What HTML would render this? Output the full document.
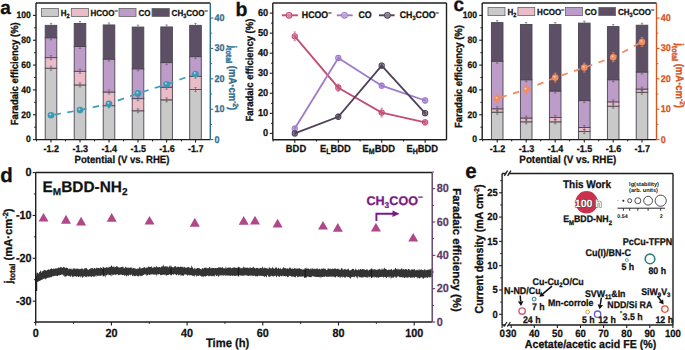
<!DOCTYPE html>
<html><head><meta charset="utf-8"><style>
html,body{margin:0;padding:0;background:#fff;}
svg{display:block;}
text{font-family:"Liberation Sans",sans-serif;text-rendering:geometricPrecision;}
</style></head><body>
<svg width="685" height="350" viewBox="0 0 685 350">
<rect width="685" height="350" fill="#fff"/>
<rect x="45.20" y="68.18" width="11.60" height="71.42" fill="#c9c9c9" stroke="#4a4650" stroke-width="0.9" />
<rect x="45.20" y="57.63" width="11.60" height="10.56" fill="#e9bcc8" stroke="#4a4650" stroke-width="0.9" />
<rect x="45.20" y="37.76" width="11.60" height="19.87" fill="#bd9cc9" stroke="#4a4650" stroke-width="0.9" />
<rect x="45.20" y="25.34" width="11.60" height="12.42" fill="#5d5066" stroke="#4a4650" stroke-width="0.9" />
<line x1="51.00" y1="66.18" x2="51.00" y2="70.18" stroke="#555" stroke-width="0.6" />
<line x1="49.80" y1="66.18" x2="52.20" y2="66.18" stroke="#555" stroke-width="0.6" />
<line x1="49.80" y1="70.18" x2="52.20" y2="70.18" stroke="#555" stroke-width="0.6" />
<line x1="51.00" y1="55.63" x2="51.00" y2="59.63" stroke="#555" stroke-width="0.6" />
<line x1="49.80" y1="55.63" x2="52.20" y2="55.63" stroke="#555" stroke-width="0.6" />
<line x1="49.80" y1="59.63" x2="52.20" y2="59.63" stroke="#555" stroke-width="0.6" />
<line x1="51.00" y1="35.76" x2="51.00" y2="39.76" stroke="#555" stroke-width="0.6" />
<line x1="49.80" y1="35.76" x2="52.20" y2="35.76" stroke="#555" stroke-width="0.6" />
<line x1="49.80" y1="39.76" x2="52.20" y2="39.76" stroke="#555" stroke-width="0.6" />
<line x1="51.00" y1="23.34" x2="51.00" y2="27.34" stroke="#555" stroke-width="0.6" />
<line x1="49.80" y1="23.34" x2="52.20" y2="23.34" stroke="#555" stroke-width="0.6" />
<line x1="49.80" y1="27.34" x2="52.20" y2="27.34" stroke="#555" stroke-width="0.6" />
<rect x="74.20" y="84.95" width="11.60" height="54.65" fill="#c9c9c9" stroke="#4a4650" stroke-width="0.9" />
<rect x="74.20" y="71.29" width="11.60" height="13.66" fill="#e9bcc8" stroke="#4a4650" stroke-width="0.9" />
<rect x="74.20" y="46.45" width="11.60" height="24.84" fill="#bd9cc9" stroke="#4a4650" stroke-width="0.9" />
<rect x="74.20" y="23.47" width="11.60" height="22.98" fill="#5d5066" stroke="#4a4650" stroke-width="0.9" />
<line x1="80.00" y1="82.95" x2="80.00" y2="86.95" stroke="#555" stroke-width="0.6" />
<line x1="78.80" y1="82.95" x2="81.20" y2="82.95" stroke="#555" stroke-width="0.6" />
<line x1="78.80" y1="86.95" x2="81.20" y2="86.95" stroke="#555" stroke-width="0.6" />
<line x1="80.00" y1="69.29" x2="80.00" y2="73.29" stroke="#555" stroke-width="0.6" />
<line x1="78.80" y1="69.29" x2="81.20" y2="69.29" stroke="#555" stroke-width="0.6" />
<line x1="78.80" y1="73.29" x2="81.20" y2="73.29" stroke="#555" stroke-width="0.6" />
<line x1="80.00" y1="44.45" x2="80.00" y2="48.45" stroke="#555" stroke-width="0.6" />
<line x1="78.80" y1="44.45" x2="81.20" y2="44.45" stroke="#555" stroke-width="0.6" />
<line x1="78.80" y1="48.45" x2="81.20" y2="48.45" stroke="#555" stroke-width="0.6" />
<line x1="80.00" y1="21.47" x2="80.00" y2="25.47" stroke="#555" stroke-width="0.6" />
<line x1="78.80" y1="21.47" x2="81.20" y2="21.47" stroke="#555" stroke-width="0.6" />
<line x1="78.80" y1="25.47" x2="81.20" y2="25.47" stroke="#555" stroke-width="0.6" />
<rect x="103.20" y="105.69" width="11.60" height="33.91" fill="#c9c9c9" stroke="#4a4650" stroke-width="0.9" />
<rect x="103.20" y="92.03" width="11.60" height="13.66" fill="#e9bcc8" stroke="#4a4650" stroke-width="0.9" />
<rect x="103.20" y="59.12" width="11.60" height="32.91" fill="#bd9cc9" stroke="#4a4650" stroke-width="0.9" />
<rect x="103.20" y="24.96" width="11.60" height="34.16" fill="#5d5066" stroke="#4a4650" stroke-width="0.9" />
<line x1="109.00" y1="103.69" x2="109.00" y2="107.69" stroke="#555" stroke-width="0.6" />
<line x1="107.80" y1="103.69" x2="110.20" y2="103.69" stroke="#555" stroke-width="0.6" />
<line x1="107.80" y1="107.69" x2="110.20" y2="107.69" stroke="#555" stroke-width="0.6" />
<line x1="109.00" y1="90.03" x2="109.00" y2="94.03" stroke="#555" stroke-width="0.6" />
<line x1="107.80" y1="90.03" x2="110.20" y2="90.03" stroke="#555" stroke-width="0.6" />
<line x1="107.80" y1="94.03" x2="110.20" y2="94.03" stroke="#555" stroke-width="0.6" />
<line x1="109.00" y1="57.12" x2="109.00" y2="61.12" stroke="#555" stroke-width="0.6" />
<line x1="107.80" y1="57.12" x2="110.20" y2="57.12" stroke="#555" stroke-width="0.6" />
<line x1="107.80" y1="61.12" x2="110.20" y2="61.12" stroke="#555" stroke-width="0.6" />
<line x1="109.00" y1="22.96" x2="109.00" y2="26.96" stroke="#555" stroke-width="0.6" />
<line x1="107.80" y1="22.96" x2="110.20" y2="22.96" stroke="#555" stroke-width="0.6" />
<line x1="107.80" y1="26.96" x2="110.20" y2="26.96" stroke="#555" stroke-width="0.6" />
<rect x="132.20" y="110.79" width="11.60" height="28.81" fill="#c9c9c9" stroke="#4a4650" stroke-width="0.9" />
<rect x="132.20" y="98.61" width="11.60" height="12.17" fill="#e9bcc8" stroke="#4a4650" stroke-width="0.9" />
<rect x="132.20" y="68.81" width="11.60" height="29.81" fill="#bd9cc9" stroke="#4a4650" stroke-width="0.9" />
<rect x="132.20" y="27.07" width="11.60" height="41.73" fill="#5d5066" stroke="#4a4650" stroke-width="0.9" />
<line x1="138.00" y1="108.79" x2="138.00" y2="112.79" stroke="#555" stroke-width="0.6" />
<line x1="136.80" y1="108.79" x2="139.20" y2="108.79" stroke="#555" stroke-width="0.6" />
<line x1="136.80" y1="112.79" x2="139.20" y2="112.79" stroke="#555" stroke-width="0.6" />
<line x1="138.00" y1="96.61" x2="138.00" y2="100.61" stroke="#555" stroke-width="0.6" />
<line x1="136.80" y1="96.61" x2="139.20" y2="96.61" stroke="#555" stroke-width="0.6" />
<line x1="136.80" y1="100.61" x2="139.20" y2="100.61" stroke="#555" stroke-width="0.6" />
<line x1="138.00" y1="66.81" x2="138.00" y2="70.81" stroke="#555" stroke-width="0.6" />
<line x1="136.80" y1="66.81" x2="139.20" y2="66.81" stroke="#555" stroke-width="0.6" />
<line x1="136.80" y1="70.81" x2="139.20" y2="70.81" stroke="#555" stroke-width="0.6" />
<line x1="138.00" y1="25.07" x2="138.00" y2="29.07" stroke="#555" stroke-width="0.6" />
<line x1="136.80" y1="25.07" x2="139.20" y2="25.07" stroke="#555" stroke-width="0.6" />
<line x1="136.80" y1="29.07" x2="139.20" y2="29.07" stroke="#555" stroke-width="0.6" />
<rect x="160.80" y="99.86" width="11.60" height="39.74" fill="#c9c9c9" stroke="#4a4650" stroke-width="0.9" />
<rect x="160.80" y="87.19" width="11.60" height="12.67" fill="#e9bcc8" stroke="#4a4650" stroke-width="0.9" />
<rect x="160.80" y="62.60" width="11.60" height="24.59" fill="#bd9cc9" stroke="#4a4650" stroke-width="0.9" />
<rect x="160.80" y="26.95" width="11.60" height="35.65" fill="#5d5066" stroke="#4a4650" stroke-width="0.9" />
<line x1="166.60" y1="97.86" x2="166.60" y2="101.86" stroke="#555" stroke-width="0.6" />
<line x1="165.40" y1="97.86" x2="167.80" y2="97.86" stroke="#555" stroke-width="0.6" />
<line x1="165.40" y1="101.86" x2="167.80" y2="101.86" stroke="#555" stroke-width="0.6" />
<line x1="166.60" y1="85.19" x2="166.60" y2="89.19" stroke="#555" stroke-width="0.6" />
<line x1="165.40" y1="85.19" x2="167.80" y2="85.19" stroke="#555" stroke-width="0.6" />
<line x1="165.40" y1="89.19" x2="167.80" y2="89.19" stroke="#555" stroke-width="0.6" />
<line x1="166.60" y1="60.60" x2="166.60" y2="64.60" stroke="#555" stroke-width="0.6" />
<line x1="165.40" y1="60.60" x2="167.80" y2="60.60" stroke="#555" stroke-width="0.6" />
<line x1="165.40" y1="64.60" x2="167.80" y2="64.60" stroke="#555" stroke-width="0.6" />
<line x1="166.60" y1="24.95" x2="166.60" y2="28.95" stroke="#555" stroke-width="0.6" />
<line x1="165.40" y1="24.95" x2="167.80" y2="24.95" stroke="#555" stroke-width="0.6" />
<line x1="165.40" y1="28.95" x2="167.80" y2="28.95" stroke="#555" stroke-width="0.6" />
<rect x="189.70" y="89.55" width="11.60" height="50.05" fill="#c9c9c9" stroke="#4a4650" stroke-width="0.9" />
<rect x="189.70" y="76.26" width="11.60" height="13.29" fill="#e9bcc8" stroke="#4a4650" stroke-width="0.9" />
<rect x="189.70" y="56.63" width="11.60" height="19.62" fill="#bd9cc9" stroke="#4a4650" stroke-width="0.9" />
<rect x="189.70" y="25.34" width="11.60" height="31.30" fill="#5d5066" stroke="#4a4650" stroke-width="0.9" />
<line x1="195.50" y1="87.55" x2="195.50" y2="91.55" stroke="#555" stroke-width="0.6" />
<line x1="194.30" y1="87.55" x2="196.70" y2="87.55" stroke="#555" stroke-width="0.6" />
<line x1="194.30" y1="91.55" x2="196.70" y2="91.55" stroke="#555" stroke-width="0.6" />
<line x1="195.50" y1="74.26" x2="195.50" y2="78.26" stroke="#555" stroke-width="0.6" />
<line x1="194.30" y1="74.26" x2="196.70" y2="74.26" stroke="#555" stroke-width="0.6" />
<line x1="194.30" y1="78.26" x2="196.70" y2="78.26" stroke="#555" stroke-width="0.6" />
<line x1="195.50" y1="54.63" x2="195.50" y2="58.63" stroke="#555" stroke-width="0.6" />
<line x1="194.30" y1="54.63" x2="196.70" y2="54.63" stroke="#555" stroke-width="0.6" />
<line x1="194.30" y1="58.63" x2="196.70" y2="58.63" stroke="#555" stroke-width="0.6" />
<line x1="195.50" y1="23.34" x2="195.50" y2="27.34" stroke="#555" stroke-width="0.6" />
<line x1="194.30" y1="23.34" x2="196.70" y2="23.34" stroke="#555" stroke-width="0.6" />
<line x1="194.30" y1="27.34" x2="196.70" y2="27.34" stroke="#555" stroke-width="0.6" />
<polyline points="51.00,115.28 80.00,110.11 109.00,103.73 138.00,93.39 166.60,84.27 195.50,73.94" fill="none" stroke="#3f9bbf" stroke-width="1.7" stroke-dasharray="6.5,6.5" stroke-dashoffset="-3.5"/>
<defs><radialGradient id="g3b98b2" cx="0.5" cy="0.5" r="0.5" fx="0.35" fy="0.32"><stop offset="0" stop-color="#cfeaf2"/><stop offset="0.45" stop-color="#3b98b2"/><stop offset="1" stop-color="#3b98b2"/></radialGradient></defs>
<circle cx="51.00" cy="115.28" r="3.30" fill="url(#g3b98b2)" stroke="none" stroke-width="0" />
<circle cx="80.00" cy="110.11" r="3.30" fill="url(#g3b98b2)" stroke="none" stroke-width="0" />
<circle cx="109.00" cy="103.73" r="3.30" fill="url(#g3b98b2)" stroke="none" stroke-width="0" />
<circle cx="138.00" cy="93.39" r="3.30" fill="url(#g3b98b2)" stroke="none" stroke-width="0" />
<circle cx="166.60" cy="84.27" r="3.30" fill="url(#g3b98b2)" stroke="none" stroke-width="0" />
<circle cx="195.50" cy="73.94" r="3.30" fill="url(#g3b98b2)" stroke="none" stroke-width="0" />
<line x1="36.00" y1="3.00" x2="210.30" y2="3.00" stroke="#1e1e1e" stroke-width="1.4" />
<line x1="36.00" y1="3.00" x2="36.00" y2="139.60" stroke="#1e1e1e" stroke-width="1.4" />
<line x1="36.00" y1="139.60" x2="210.30" y2="139.60" stroke="#1e1e1e" stroke-width="1.4" />
<line x1="210.30" y1="3.00" x2="210.30" y2="139.60" stroke="#2f6e8c" stroke-width="1.4" />
<line x1="33.00" y1="139.60" x2="36.00" y2="139.60" stroke="#1e1e1e" stroke-width="1.1" />
<text transform="translate(30.80,142.40) scale(1,1.09)" font-size="8.6" font-weight="bold" text-anchor="end" fill="#111" stroke="#111" stroke-width="0.25" >0</text>
<line x1="34.20" y1="127.18" x2="36.00" y2="127.18" stroke="#1e1e1e" stroke-width="1.0" />
<line x1="33.00" y1="114.76" x2="36.00" y2="114.76" stroke="#1e1e1e" stroke-width="1.1" />
<text transform="translate(30.80,117.56) scale(1,1.09)" font-size="8.6" font-weight="bold" text-anchor="end" fill="#111" stroke="#111" stroke-width="0.25" >20</text>
<line x1="34.20" y1="102.34" x2="36.00" y2="102.34" stroke="#1e1e1e" stroke-width="1.0" />
<line x1="33.00" y1="89.92" x2="36.00" y2="89.92" stroke="#1e1e1e" stroke-width="1.1" />
<text transform="translate(30.80,92.72) scale(1,1.09)" font-size="8.6" font-weight="bold" text-anchor="end" fill="#111" stroke="#111" stroke-width="0.25" >40</text>
<line x1="34.20" y1="77.50" x2="36.00" y2="77.50" stroke="#1e1e1e" stroke-width="1.0" />
<line x1="33.00" y1="65.08" x2="36.00" y2="65.08" stroke="#1e1e1e" stroke-width="1.1" />
<text transform="translate(30.80,67.88) scale(1,1.09)" font-size="8.6" font-weight="bold" text-anchor="end" fill="#111" stroke="#111" stroke-width="0.25" >60</text>
<line x1="34.20" y1="52.66" x2="36.00" y2="52.66" stroke="#1e1e1e" stroke-width="1.0" />
<line x1="33.00" y1="40.24" x2="36.00" y2="40.24" stroke="#1e1e1e" stroke-width="1.1" />
<text transform="translate(30.80,43.04) scale(1,1.09)" font-size="8.6" font-weight="bold" text-anchor="end" fill="#111" stroke="#111" stroke-width="0.25" >80</text>
<line x1="34.20" y1="27.82" x2="36.00" y2="27.82" stroke="#1e1e1e" stroke-width="1.0" />
<line x1="33.00" y1="15.40" x2="36.00" y2="15.40" stroke="#1e1e1e" stroke-width="1.1" />
<text transform="translate(30.80,18.20) scale(1,1.09)" font-size="8.6" font-weight="bold" text-anchor="end" fill="#111" stroke="#111" stroke-width="0.25" >100</text>
<line x1="210.30" y1="139.60" x2="213.30" y2="139.60" stroke="#2f6e8c" stroke-width="1.1" />
<text transform="translate(214.60,142.60) scale(1,1.09)" font-size="9.0" font-weight="bold" text-anchor="start" fill="#2f6e8c" stroke="#2f6e8c" stroke-width="0.25" >0</text>
<line x1="210.30" y1="124.40" x2="212.10" y2="124.40" stroke="#2f6e8c" stroke-width="1.0" />
<line x1="210.30" y1="109.20" x2="213.30" y2="109.20" stroke="#2f6e8c" stroke-width="1.1" />
<text transform="translate(214.60,112.20) scale(1,1.09)" font-size="9.0" font-weight="bold" text-anchor="start" fill="#2f6e8c" stroke="#2f6e8c" stroke-width="0.25" >10</text>
<line x1="210.30" y1="94.00" x2="212.10" y2="94.00" stroke="#2f6e8c" stroke-width="1.0" />
<line x1="210.30" y1="78.80" x2="213.30" y2="78.80" stroke="#2f6e8c" stroke-width="1.1" />
<text transform="translate(214.60,81.80) scale(1,1.09)" font-size="9.0" font-weight="bold" text-anchor="start" fill="#2f6e8c" stroke="#2f6e8c" stroke-width="0.25" >20</text>
<line x1="210.30" y1="63.60" x2="212.10" y2="63.60" stroke="#2f6e8c" stroke-width="1.0" />
<line x1="210.30" y1="48.40" x2="213.30" y2="48.40" stroke="#2f6e8c" stroke-width="1.1" />
<text transform="translate(214.60,51.40) scale(1,1.09)" font-size="9.0" font-weight="bold" text-anchor="start" fill="#2f6e8c" stroke="#2f6e8c" stroke-width="0.25" >30</text>
<line x1="210.30" y1="33.20" x2="212.10" y2="33.20" stroke="#2f6e8c" stroke-width="1.0" />
<line x1="210.30" y1="18.00" x2="213.30" y2="18.00" stroke="#2f6e8c" stroke-width="1.1" />
<text transform="translate(214.60,21.00) scale(1,1.09)" font-size="9.0" font-weight="bold" text-anchor="start" fill="#2f6e8c" stroke="#2f6e8c" stroke-width="0.25" >40</text>
<line x1="51.00" y1="139.60" x2="51.00" y2="142.60" stroke="#1e1e1e" stroke-width="1.1" />
<text transform="translate(51.30,152.20) scale(1,1.09)" font-size="9.0" font-weight="bold" text-anchor="middle" fill="#111" stroke="#111" stroke-width="0.25" >-1.2</text>
<line x1="80.00" y1="139.60" x2="80.00" y2="142.60" stroke="#1e1e1e" stroke-width="1.1" />
<text transform="translate(80.30,152.20) scale(1,1.09)" font-size="9.0" font-weight="bold" text-anchor="middle" fill="#111" stroke="#111" stroke-width="0.25" >-1.3</text>
<line x1="109.00" y1="139.60" x2="109.00" y2="142.60" stroke="#1e1e1e" stroke-width="1.1" />
<text transform="translate(109.30,152.20) scale(1,1.09)" font-size="9.0" font-weight="bold" text-anchor="middle" fill="#111" stroke="#111" stroke-width="0.25" >-1.4</text>
<line x1="138.00" y1="139.60" x2="138.00" y2="142.60" stroke="#1e1e1e" stroke-width="1.1" />
<text transform="translate(138.30,152.20) scale(1,1.09)" font-size="9.0" font-weight="bold" text-anchor="middle" fill="#111" stroke="#111" stroke-width="0.25" >-1.5</text>
<line x1="166.60" y1="139.60" x2="166.60" y2="142.60" stroke="#1e1e1e" stroke-width="1.1" />
<text transform="translate(166.90,152.20) scale(1,1.09)" font-size="9.0" font-weight="bold" text-anchor="middle" fill="#111" stroke="#111" stroke-width="0.25" >-1.6</text>
<line x1="195.50" y1="139.60" x2="195.50" y2="142.60" stroke="#1e1e1e" stroke-width="1.1" />
<text transform="translate(195.80,152.20) scale(1,1.09)" font-size="9.0" font-weight="bold" text-anchor="middle" fill="#111" stroke="#111" stroke-width="0.25" >-1.7</text>
<line x1="36.50" y1="139.60" x2="36.50" y2="141.40" stroke="#1e1e1e" stroke-width="1.0" />
<line x1="65.50" y1="139.60" x2="65.50" y2="141.40" stroke="#1e1e1e" stroke-width="1.0" />
<line x1="94.50" y1="139.60" x2="94.50" y2="141.40" stroke="#1e1e1e" stroke-width="1.0" />
<line x1="123.50" y1="139.60" x2="123.50" y2="141.40" stroke="#1e1e1e" stroke-width="1.0" />
<line x1="152.50" y1="139.60" x2="152.50" y2="141.40" stroke="#1e1e1e" stroke-width="1.0" />
<line x1="181.50" y1="139.60" x2="181.50" y2="141.40" stroke="#1e1e1e" stroke-width="1.0" />
<rect x="491.40" y="112.15" width="11.60" height="27.45" fill="#c9c9c9" stroke="#4a4650" stroke-width="0.9" />
<rect x="491.40" y="108.80" width="11.60" height="3.35" fill="#e9bcc8" stroke="#4a4650" stroke-width="0.9" />
<rect x="491.40" y="61.23" width="11.60" height="47.57" fill="#bd9cc9" stroke="#4a4650" stroke-width="0.9" />
<rect x="491.40" y="22.60" width="11.60" height="38.63" fill="#5d5066" stroke="#4a4650" stroke-width="0.9" />
<line x1="497.20" y1="110.15" x2="497.20" y2="114.15" stroke="#555" stroke-width="0.6" />
<line x1="496.00" y1="110.15" x2="498.40" y2="110.15" stroke="#555" stroke-width="0.6" />
<line x1="496.00" y1="114.15" x2="498.40" y2="114.15" stroke="#555" stroke-width="0.6" />
<line x1="497.20" y1="106.80" x2="497.20" y2="110.80" stroke="#555" stroke-width="0.6" />
<line x1="496.00" y1="106.80" x2="498.40" y2="106.80" stroke="#555" stroke-width="0.6" />
<line x1="496.00" y1="110.80" x2="498.40" y2="110.80" stroke="#555" stroke-width="0.6" />
<line x1="497.20" y1="59.23" x2="497.20" y2="63.23" stroke="#555" stroke-width="0.6" />
<line x1="496.00" y1="59.23" x2="498.40" y2="59.23" stroke="#555" stroke-width="0.6" />
<line x1="496.00" y1="63.23" x2="498.40" y2="63.23" stroke="#555" stroke-width="0.6" />
<line x1="497.20" y1="20.60" x2="497.20" y2="24.60" stroke="#555" stroke-width="0.6" />
<line x1="496.00" y1="20.60" x2="498.40" y2="20.60" stroke="#555" stroke-width="0.6" />
<line x1="496.00" y1="24.60" x2="498.40" y2="24.60" stroke="#555" stroke-width="0.6" />
<rect x="520.40" y="121.84" width="11.60" height="17.76" fill="#c9c9c9" stroke="#4a4650" stroke-width="0.9" />
<rect x="520.40" y="117.99" width="11.60" height="3.85" fill="#e9bcc8" stroke="#4a4650" stroke-width="0.9" />
<rect x="520.40" y="79.74" width="11.60" height="38.25" fill="#bd9cc9" stroke="#4a4650" stroke-width="0.9" />
<rect x="520.40" y="24.47" width="11.60" height="55.27" fill="#5d5066" stroke="#4a4650" stroke-width="0.9" />
<line x1="526.20" y1="119.84" x2="526.20" y2="123.84" stroke="#555" stroke-width="0.6" />
<line x1="525.00" y1="119.84" x2="527.40" y2="119.84" stroke="#555" stroke-width="0.6" />
<line x1="525.00" y1="123.84" x2="527.40" y2="123.84" stroke="#555" stroke-width="0.6" />
<line x1="526.20" y1="115.99" x2="526.20" y2="119.99" stroke="#555" stroke-width="0.6" />
<line x1="525.00" y1="115.99" x2="527.40" y2="115.99" stroke="#555" stroke-width="0.6" />
<line x1="525.00" y1="119.99" x2="527.40" y2="119.99" stroke="#555" stroke-width="0.6" />
<line x1="526.20" y1="77.74" x2="526.20" y2="81.74" stroke="#555" stroke-width="0.6" />
<line x1="525.00" y1="77.74" x2="527.40" y2="77.74" stroke="#555" stroke-width="0.6" />
<line x1="525.00" y1="81.74" x2="527.40" y2="81.74" stroke="#555" stroke-width="0.6" />
<line x1="526.20" y1="22.47" x2="526.20" y2="26.47" stroke="#555" stroke-width="0.6" />
<line x1="525.00" y1="22.47" x2="527.40" y2="22.47" stroke="#555" stroke-width="0.6" />
<line x1="525.00" y1="26.47" x2="527.40" y2="26.47" stroke="#555" stroke-width="0.6" />
<rect x="549.40" y="121.84" width="11.60" height="17.76" fill="#c9c9c9" stroke="#4a4650" stroke-width="0.9" />
<rect x="549.40" y="117.49" width="11.60" height="4.35" fill="#e9bcc8" stroke="#4a4650" stroke-width="0.9" />
<rect x="549.40" y="91.04" width="11.60" height="26.45" fill="#bd9cc9" stroke="#4a4650" stroke-width="0.9" />
<rect x="549.40" y="24.59" width="11.60" height="66.45" fill="#5d5066" stroke="#4a4650" stroke-width="0.9" />
<line x1="555.20" y1="119.84" x2="555.20" y2="123.84" stroke="#555" stroke-width="0.6" />
<line x1="554.00" y1="119.84" x2="556.40" y2="119.84" stroke="#555" stroke-width="0.6" />
<line x1="554.00" y1="123.84" x2="556.40" y2="123.84" stroke="#555" stroke-width="0.6" />
<line x1="555.20" y1="115.49" x2="555.20" y2="119.49" stroke="#555" stroke-width="0.6" />
<line x1="554.00" y1="115.49" x2="556.40" y2="115.49" stroke="#555" stroke-width="0.6" />
<line x1="554.00" y1="119.49" x2="556.40" y2="119.49" stroke="#555" stroke-width="0.6" />
<line x1="555.20" y1="89.04" x2="555.20" y2="93.04" stroke="#555" stroke-width="0.6" />
<line x1="554.00" y1="89.04" x2="556.40" y2="89.04" stroke="#555" stroke-width="0.6" />
<line x1="554.00" y1="93.04" x2="556.40" y2="93.04" stroke="#555" stroke-width="0.6" />
<line x1="555.20" y1="22.59" x2="555.20" y2="26.59" stroke="#555" stroke-width="0.6" />
<line x1="554.00" y1="22.59" x2="556.40" y2="22.59" stroke="#555" stroke-width="0.6" />
<line x1="554.00" y1="26.59" x2="556.40" y2="26.59" stroke="#555" stroke-width="0.6" />
<rect x="578.50" y="131.53" width="11.60" height="8.07" fill="#c9c9c9" stroke="#4a4650" stroke-width="0.9" />
<rect x="578.50" y="127.55" width="11.60" height="3.97" fill="#e9bcc8" stroke="#4a4650" stroke-width="0.9" />
<rect x="578.50" y="100.60" width="11.60" height="26.95" fill="#bd9cc9" stroke="#4a4650" stroke-width="0.9" />
<rect x="578.50" y="23.10" width="11.60" height="77.50" fill="#5d5066" stroke="#4a4650" stroke-width="0.9" />
<line x1="584.30" y1="129.53" x2="584.30" y2="133.53" stroke="#555" stroke-width="0.6" />
<line x1="583.10" y1="129.53" x2="585.50" y2="129.53" stroke="#555" stroke-width="0.6" />
<line x1="583.10" y1="133.53" x2="585.50" y2="133.53" stroke="#555" stroke-width="0.6" />
<line x1="584.30" y1="125.55" x2="584.30" y2="129.55" stroke="#555" stroke-width="0.6" />
<line x1="583.10" y1="125.55" x2="585.50" y2="125.55" stroke="#555" stroke-width="0.6" />
<line x1="583.10" y1="129.55" x2="585.50" y2="129.55" stroke="#555" stroke-width="0.6" />
<line x1="584.30" y1="98.60" x2="584.30" y2="102.60" stroke="#555" stroke-width="0.6" />
<line x1="583.10" y1="98.60" x2="585.50" y2="98.60" stroke="#555" stroke-width="0.6" />
<line x1="583.10" y1="102.60" x2="585.50" y2="102.60" stroke="#555" stroke-width="0.6" />
<line x1="584.30" y1="21.10" x2="584.30" y2="25.10" stroke="#555" stroke-width="0.6" />
<line x1="583.10" y1="21.10" x2="585.50" y2="21.10" stroke="#555" stroke-width="0.6" />
<line x1="583.10" y1="25.10" x2="585.50" y2="25.10" stroke="#555" stroke-width="0.6" />
<rect x="607.40" y="106.19" width="11.60" height="33.41" fill="#c9c9c9" stroke="#4a4650" stroke-width="0.9" />
<rect x="607.40" y="101.84" width="11.60" height="4.35" fill="#e9bcc8" stroke="#4a4650" stroke-width="0.9" />
<rect x="607.40" y="79.74" width="11.60" height="22.11" fill="#bd9cc9" stroke="#4a4650" stroke-width="0.9" />
<rect x="607.40" y="26.58" width="11.60" height="53.16" fill="#5d5066" stroke="#4a4650" stroke-width="0.9" />
<line x1="613.20" y1="104.19" x2="613.20" y2="108.19" stroke="#555" stroke-width="0.6" />
<line x1="612.00" y1="104.19" x2="614.40" y2="104.19" stroke="#555" stroke-width="0.6" />
<line x1="612.00" y1="108.19" x2="614.40" y2="108.19" stroke="#555" stroke-width="0.6" />
<line x1="613.20" y1="99.84" x2="613.20" y2="103.84" stroke="#555" stroke-width="0.6" />
<line x1="612.00" y1="99.84" x2="614.40" y2="99.84" stroke="#555" stroke-width="0.6" />
<line x1="612.00" y1="103.84" x2="614.40" y2="103.84" stroke="#555" stroke-width="0.6" />
<line x1="613.20" y1="77.74" x2="613.20" y2="81.74" stroke="#555" stroke-width="0.6" />
<line x1="612.00" y1="77.74" x2="614.40" y2="77.74" stroke="#555" stroke-width="0.6" />
<line x1="612.00" y1="81.74" x2="614.40" y2="81.74" stroke="#555" stroke-width="0.6" />
<line x1="613.20" y1="24.58" x2="613.20" y2="28.58" stroke="#555" stroke-width="0.6" />
<line x1="612.00" y1="24.58" x2="614.40" y2="24.58" stroke="#555" stroke-width="0.6" />
<line x1="612.00" y1="28.58" x2="614.40" y2="28.58" stroke="#555" stroke-width="0.6" />
<rect x="636.20" y="92.28" width="11.60" height="47.32" fill="#c9c9c9" stroke="#4a4650" stroke-width="0.9" />
<rect x="636.20" y="89.05" width="11.60" height="3.23" fill="#e9bcc8" stroke="#4a4650" stroke-width="0.9" />
<rect x="636.20" y="72.04" width="11.60" height="17.02" fill="#bd9cc9" stroke="#4a4650" stroke-width="0.9" />
<rect x="636.20" y="25.21" width="11.60" height="46.82" fill="#5d5066" stroke="#4a4650" stroke-width="0.9" />
<line x1="642.00" y1="90.28" x2="642.00" y2="94.28" stroke="#555" stroke-width="0.6" />
<line x1="640.80" y1="90.28" x2="643.20" y2="90.28" stroke="#555" stroke-width="0.6" />
<line x1="640.80" y1="94.28" x2="643.20" y2="94.28" stroke="#555" stroke-width="0.6" />
<line x1="642.00" y1="87.05" x2="642.00" y2="91.05" stroke="#555" stroke-width="0.6" />
<line x1="640.80" y1="87.05" x2="643.20" y2="87.05" stroke="#555" stroke-width="0.6" />
<line x1="640.80" y1="91.05" x2="643.20" y2="91.05" stroke="#555" stroke-width="0.6" />
<line x1="642.00" y1="70.04" x2="642.00" y2="74.04" stroke="#555" stroke-width="0.6" />
<line x1="640.80" y1="70.04" x2="643.20" y2="70.04" stroke="#555" stroke-width="0.6" />
<line x1="640.80" y1="74.04" x2="643.20" y2="74.04" stroke="#555" stroke-width="0.6" />
<line x1="642.00" y1="23.21" x2="642.00" y2="27.21" stroke="#555" stroke-width="0.6" />
<line x1="640.80" y1="23.21" x2="643.20" y2="23.21" stroke="#555" stroke-width="0.6" />
<line x1="640.80" y1="27.21" x2="643.20" y2="27.21" stroke="#555" stroke-width="0.6" />
<polyline points="497.20,98.56 526.20,89.44 555.20,77.58 584.30,67.55 613.20,57.22 642.00,42.02" fill="none" stroke="#ee8a5c" stroke-width="1.7" stroke-dasharray="6.5,6.5" stroke-dashoffset="-3.5"/>
<defs><radialGradient id="gf08c5e" cx="0.5" cy="0.5" r="0.5" fx="0.35" fy="0.32"><stop offset="0" stop-color="#fde0d0"/><stop offset="0.45" stop-color="#f08c5e"/><stop offset="1" stop-color="#f08c5e"/></radialGradient></defs>
<line x1="497.20" y1="94.06" x2="497.20" y2="103.06" stroke="#ee8a5c" stroke-width="0.7" />
<line x1="495.90" y1="94.06" x2="498.50" y2="94.06" stroke="#ee8a5c" stroke-width="0.7" />
<line x1="495.90" y1="103.06" x2="498.50" y2="103.06" stroke="#ee8a5c" stroke-width="0.7" />
<circle cx="497.20" cy="98.56" r="3.30" fill="url(#gf08c5e)" stroke="none" stroke-width="0" />
<line x1="526.20" y1="84.94" x2="526.20" y2="93.94" stroke="#ee8a5c" stroke-width="0.7" />
<line x1="524.90" y1="84.94" x2="527.50" y2="84.94" stroke="#ee8a5c" stroke-width="0.7" />
<line x1="524.90" y1="93.94" x2="527.50" y2="93.94" stroke="#ee8a5c" stroke-width="0.7" />
<circle cx="526.20" cy="89.44" r="3.30" fill="url(#gf08c5e)" stroke="none" stroke-width="0" />
<line x1="555.20" y1="73.08" x2="555.20" y2="82.08" stroke="#ee8a5c" stroke-width="0.7" />
<line x1="553.90" y1="73.08" x2="556.50" y2="73.08" stroke="#ee8a5c" stroke-width="0.7" />
<line x1="553.90" y1="82.08" x2="556.50" y2="82.08" stroke="#ee8a5c" stroke-width="0.7" />
<circle cx="555.20" cy="77.58" r="3.30" fill="url(#gf08c5e)" stroke="none" stroke-width="0" />
<line x1="584.30" y1="63.05" x2="584.30" y2="72.05" stroke="#ee8a5c" stroke-width="0.7" />
<line x1="583.00" y1="63.05" x2="585.60" y2="63.05" stroke="#ee8a5c" stroke-width="0.7" />
<line x1="583.00" y1="72.05" x2="585.60" y2="72.05" stroke="#ee8a5c" stroke-width="0.7" />
<circle cx="584.30" cy="67.55" r="3.30" fill="url(#gf08c5e)" stroke="none" stroke-width="0" />
<line x1="613.20" y1="52.72" x2="613.20" y2="61.72" stroke="#ee8a5c" stroke-width="0.7" />
<line x1="611.90" y1="52.72" x2="614.50" y2="52.72" stroke="#ee8a5c" stroke-width="0.7" />
<line x1="611.90" y1="61.72" x2="614.50" y2="61.72" stroke="#ee8a5c" stroke-width="0.7" />
<circle cx="613.20" cy="57.22" r="3.30" fill="url(#gf08c5e)" stroke="none" stroke-width="0" />
<line x1="642.00" y1="37.52" x2="642.00" y2="46.52" stroke="#ee8a5c" stroke-width="0.7" />
<line x1="640.70" y1="37.52" x2="643.30" y2="37.52" stroke="#ee8a5c" stroke-width="0.7" />
<line x1="640.70" y1="46.52" x2="643.30" y2="46.52" stroke="#ee8a5c" stroke-width="0.7" />
<circle cx="642.00" cy="42.02" r="3.30" fill="url(#gf08c5e)" stroke="none" stroke-width="0" />
<line x1="482.20" y1="3.00" x2="656.50" y2="3.00" stroke="#1e1e1e" stroke-width="1.4" />
<line x1="482.20" y1="3.00" x2="482.20" y2="139.60" stroke="#1e1e1e" stroke-width="1.4" />
<line x1="482.20" y1="139.60" x2="656.50" y2="139.60" stroke="#1e1e1e" stroke-width="1.4" />
<line x1="656.50" y1="3.00" x2="656.50" y2="139.60" stroke="#d6561f" stroke-width="1.4" />
<line x1="479.20" y1="139.60" x2="482.20" y2="139.60" stroke="#1e1e1e" stroke-width="1.1" />
<text transform="translate(477.00,142.40) scale(1,1.09)" font-size="8.6" font-weight="bold" text-anchor="end" fill="#111" stroke="#111" stroke-width="0.25" >0</text>
<line x1="480.40" y1="127.18" x2="482.20" y2="127.18" stroke="#1e1e1e" stroke-width="1.0" />
<line x1="479.20" y1="114.76" x2="482.20" y2="114.76" stroke="#1e1e1e" stroke-width="1.1" />
<text transform="translate(477.00,117.56) scale(1,1.09)" font-size="8.6" font-weight="bold" text-anchor="end" fill="#111" stroke="#111" stroke-width="0.25" >20</text>
<line x1="480.40" y1="102.34" x2="482.20" y2="102.34" stroke="#1e1e1e" stroke-width="1.0" />
<line x1="479.20" y1="89.92" x2="482.20" y2="89.92" stroke="#1e1e1e" stroke-width="1.1" />
<text transform="translate(477.00,92.72) scale(1,1.09)" font-size="8.6" font-weight="bold" text-anchor="end" fill="#111" stroke="#111" stroke-width="0.25" >40</text>
<line x1="480.40" y1="77.50" x2="482.20" y2="77.50" stroke="#1e1e1e" stroke-width="1.0" />
<line x1="479.20" y1="65.08" x2="482.20" y2="65.08" stroke="#1e1e1e" stroke-width="1.1" />
<text transform="translate(477.00,67.88) scale(1,1.09)" font-size="8.6" font-weight="bold" text-anchor="end" fill="#111" stroke="#111" stroke-width="0.25" >60</text>
<line x1="480.40" y1="52.66" x2="482.20" y2="52.66" stroke="#1e1e1e" stroke-width="1.0" />
<line x1="479.20" y1="40.24" x2="482.20" y2="40.24" stroke="#1e1e1e" stroke-width="1.1" />
<text transform="translate(477.00,43.04) scale(1,1.09)" font-size="8.6" font-weight="bold" text-anchor="end" fill="#111" stroke="#111" stroke-width="0.25" >80</text>
<line x1="480.40" y1="27.82" x2="482.20" y2="27.82" stroke="#1e1e1e" stroke-width="1.0" />
<line x1="479.20" y1="15.40" x2="482.20" y2="15.40" stroke="#1e1e1e" stroke-width="1.1" />
<text transform="translate(477.00,18.20) scale(1,1.09)" font-size="8.6" font-weight="bold" text-anchor="end" fill="#111" stroke="#111" stroke-width="0.25" >100</text>
<line x1="656.50" y1="139.60" x2="659.50" y2="139.60" stroke="#d6561f" stroke-width="1.1" />
<text transform="translate(660.80,142.60) scale(1,1.09)" font-size="9.0" font-weight="bold" text-anchor="start" fill="#d6561f" stroke="#d6561f" stroke-width="0.25" >0</text>
<line x1="656.50" y1="124.40" x2="658.30" y2="124.40" stroke="#d6561f" stroke-width="1.0" />
<line x1="656.50" y1="109.20" x2="659.50" y2="109.20" stroke="#d6561f" stroke-width="1.1" />
<text transform="translate(660.80,112.20) scale(1,1.09)" font-size="9.0" font-weight="bold" text-anchor="start" fill="#d6561f" stroke="#d6561f" stroke-width="0.25" >10</text>
<line x1="656.50" y1="94.00" x2="658.30" y2="94.00" stroke="#d6561f" stroke-width="1.0" />
<line x1="656.50" y1="78.80" x2="659.50" y2="78.80" stroke="#d6561f" stroke-width="1.1" />
<text transform="translate(660.80,81.80) scale(1,1.09)" font-size="9.0" font-weight="bold" text-anchor="start" fill="#d6561f" stroke="#d6561f" stroke-width="0.25" >20</text>
<line x1="656.50" y1="63.60" x2="658.30" y2="63.60" stroke="#d6561f" stroke-width="1.0" />
<line x1="656.50" y1="48.40" x2="659.50" y2="48.40" stroke="#d6561f" stroke-width="1.1" />
<text transform="translate(660.80,51.40) scale(1,1.09)" font-size="9.0" font-weight="bold" text-anchor="start" fill="#d6561f" stroke="#d6561f" stroke-width="0.25" >30</text>
<line x1="656.50" y1="33.20" x2="658.30" y2="33.20" stroke="#d6561f" stroke-width="1.0" />
<line x1="656.50" y1="18.00" x2="659.50" y2="18.00" stroke="#d6561f" stroke-width="1.1" />
<text transform="translate(660.80,21.00) scale(1,1.09)" font-size="9.0" font-weight="bold" text-anchor="start" fill="#d6561f" stroke="#d6561f" stroke-width="0.25" >40</text>
<line x1="497.20" y1="139.60" x2="497.20" y2="142.60" stroke="#1e1e1e" stroke-width="1.1" />
<text transform="translate(497.50,152.20) scale(1,1.09)" font-size="9.0" font-weight="bold" text-anchor="middle" fill="#111" stroke="#111" stroke-width="0.25" >-1.2</text>
<line x1="526.20" y1="139.60" x2="526.20" y2="142.60" stroke="#1e1e1e" stroke-width="1.1" />
<text transform="translate(526.50,152.20) scale(1,1.09)" font-size="9.0" font-weight="bold" text-anchor="middle" fill="#111" stroke="#111" stroke-width="0.25" >-1.3</text>
<line x1="555.20" y1="139.60" x2="555.20" y2="142.60" stroke="#1e1e1e" stroke-width="1.1" />
<text transform="translate(555.50,152.20) scale(1,1.09)" font-size="9.0" font-weight="bold" text-anchor="middle" fill="#111" stroke="#111" stroke-width="0.25" >-1.4</text>
<line x1="584.30" y1="139.60" x2="584.30" y2="142.60" stroke="#1e1e1e" stroke-width="1.1" />
<text transform="translate(584.60,152.20) scale(1,1.09)" font-size="9.0" font-weight="bold" text-anchor="middle" fill="#111" stroke="#111" stroke-width="0.25" >-1.5</text>
<line x1="613.20" y1="139.60" x2="613.20" y2="142.60" stroke="#1e1e1e" stroke-width="1.1" />
<text transform="translate(613.50,152.20) scale(1,1.09)" font-size="9.0" font-weight="bold" text-anchor="middle" fill="#111" stroke="#111" stroke-width="0.25" >-1.6</text>
<line x1="642.00" y1="139.60" x2="642.00" y2="142.60" stroke="#1e1e1e" stroke-width="1.1" />
<text transform="translate(642.30,152.20) scale(1,1.09)" font-size="9.0" font-weight="bold" text-anchor="middle" fill="#111" stroke="#111" stroke-width="0.25" >-1.7</text>
<line x1="482.70" y1="139.60" x2="482.70" y2="141.40" stroke="#1e1e1e" stroke-width="1.0" />
<line x1="511.70" y1="139.60" x2="511.70" y2="141.40" stroke="#1e1e1e" stroke-width="1.0" />
<line x1="540.70" y1="139.60" x2="540.70" y2="141.40" stroke="#1e1e1e" stroke-width="1.0" />
<line x1="569.70" y1="139.60" x2="569.70" y2="141.40" stroke="#1e1e1e" stroke-width="1.0" />
<line x1="598.70" y1="139.60" x2="598.70" y2="141.40" stroke="#1e1e1e" stroke-width="1.0" />
<line x1="627.70" y1="139.60" x2="627.70" y2="141.40" stroke="#1e1e1e" stroke-width="1.0" />
<rect x="41.40" y="8.40" width="17.10" height="8.10" fill="#c9c9c9" stroke="#666" stroke-width="0.8" />
<rect x="71.30" y="8.40" width="17.10" height="8.10" fill="#e9bcc8" stroke="#666" stroke-width="0.8" />
<rect x="119.00" y="8.40" width="17.00" height="8.10" fill="#bd9cc9" stroke="#666" stroke-width="0.8" />
<rect x="152.00" y="8.40" width="17.30" height="8.10" fill="#5d5066" stroke="#666" stroke-width="0.8" />
<text transform="translate(60.80,15.90) scale(1,1.09)" font-size="8.0" font-weight="bold" text-anchor="start" fill="#111" stroke="#111" stroke-width="0.25" >H<tspan font-size="5.6" dy="1.8">2</tspan><tspan dy="-1.8"></tspan></text>
<text transform="translate(90.40,15.90) scale(1,1.09)" font-size="8.0" font-weight="bold" text-anchor="start" fill="#111" stroke="#111" stroke-width="0.25" >HCOO<tspan font-size="5.6" dy="-3">−</tspan></text>
<text transform="translate(138.50,15.90) scale(1,1.09)" font-size="8.0" font-weight="bold" text-anchor="start" fill="#111" stroke="#111" stroke-width="0.25" >CO</text>
<text transform="translate(171.60,15.90) scale(1,1.09)" font-size="8.0" font-weight="bold" text-anchor="start" fill="#111" stroke="#111" stroke-width="0.25" >CH<tspan font-size="5.6" dy="1.8">3</tspan><tspan dy="-1.8">COO</tspan><tspan font-size="5.6" dy="-3">−</tspan></text>
<rect x="488.00" y="7.40" width="17.00" height="8.20" fill="#c9c9c9" stroke="#666" stroke-width="0.8" />
<rect x="517.90" y="7.40" width="16.80" height="8.20" fill="#e9bcc8" stroke="#666" stroke-width="0.8" />
<rect x="565.40" y="7.40" width="17.00" height="8.20" fill="#bd9cc9" stroke="#666" stroke-width="0.8" />
<rect x="598.80" y="7.40" width="16.70" height="8.20" fill="#5d5066" stroke="#666" stroke-width="0.8" />
<text transform="translate(507.50,15.00) scale(1,1.09)" font-size="8.0" font-weight="bold" text-anchor="start" fill="#111" stroke="#111" stroke-width="0.25" >H<tspan font-size="5.6" dy="1.8">2</tspan><tspan dy="-1.8"></tspan></text>
<text transform="translate(537.10,15.00) scale(1,1.09)" font-size="8.0" font-weight="bold" text-anchor="start" fill="#111" stroke="#111" stroke-width="0.25" >HCOO<tspan font-size="5.6" dy="-3">−</tspan></text>
<text transform="translate(584.70,15.00) scale(1,1.09)" font-size="8.0" font-weight="bold" text-anchor="start" fill="#111" stroke="#111" stroke-width="0.25" >CO</text>
<text transform="translate(618.00,15.00) scale(1,1.09)" font-size="8.0" font-weight="bold" text-anchor="start" fill="#111" stroke="#111" stroke-width="0.25" >CH<tspan font-size="5.6" dy="1.8">3</tspan><tspan dy="-1.8">COO</tspan><tspan font-size="5.6" dy="-3">−</tspan></text>
<text transform="translate(0.20,13.90)" font-size="19" font-weight="bold" text-anchor="start" fill="#111" stroke="#111" stroke-width="0.3" >a</text>
<text transform="translate(235.40,15.80)" font-size="19.5" font-weight="bold" text-anchor="start" fill="#111" stroke="#111" stroke-width="0.3" >b</text>
<text transform="translate(453.40,11.40) scale(1,1.03)" font-size="19" font-weight="bold" text-anchor="start" fill="#111" stroke="#111" stroke-width="0.3" >c</text>
<text transform="translate(0.20,181.80)" font-size="20.5" font-weight="bold" text-anchor="start" fill="#111" stroke="#111" stroke-width="0.3" >d</text>
<text transform="translate(465.20,178.30) scale(1,1.02)" font-size="20.5" font-weight="bold" text-anchor="start" fill="#111" stroke="#111" stroke-width="0.3" >e</text>
<text transform="translate(17.60,73.70) rotate(-90) scale(1,1.09)" font-size="9.5" font-weight="bold" text-anchor="middle" fill="#111" stroke="#111" stroke-width="0.3" >Faradaic efficiency (%)</text>
<text transform="translate(462.30,76.50) rotate(-90) scale(1,1.09)" font-size="9.5" font-weight="bold" text-anchor="middle" fill="#111" stroke="#111" stroke-width="0.3" >Faradaic efficiency (%)</text>
<text transform="translate(122.00,163.40) scale(1,1.09)" font-size="9.6" font-weight="bold" text-anchor="middle" fill="#111" stroke="#111" stroke-width="0.25" >Potential (V vs. RHE)</text>
<text transform="translate(567.80,163.40) scale(1,1.09)" font-size="9.8" font-weight="bold" text-anchor="middle" fill="#111" stroke="#111" stroke-width="0.25" >Potential (V vs. RHE)</text>
<text transform="translate(229.30,77.80) rotate(90) scale(1,1.15)" font-size="9.5" font-weight="bold" text-anchor="middle" fill="#2f6e8c" stroke="#2f6e8c" stroke-width="0.3" >j<tspan font-size="7.2" dy="3.2">total</tspan><tspan dy="-3.2"> (mA·cm</tspan><tspan font-size="6.5" dy="-3.5">-2</tspan><tspan font-size="9.5" dy="3.5">)</tspan></text>
<text transform="translate(675.60,75.60) rotate(90) scale(1,1.15)" font-size="9.5" font-weight="bold" text-anchor="middle" fill="#d6561f" stroke="#d6561f" stroke-width="0.3" >j<tspan font-size="7.2" dy="3.2">total</tspan><tspan dy="-3.2"> (mA·cm</tspan><tspan font-size="6.5" dy="-3.5">-2</tspan><tspan font-size="9.5" dy="3.5">)</tspan></text>
<polyline points="294.80,36.36 338.30,87.69 381.70,112.55 425.10,122.37" fill="none" stroke="#c24e78" stroke-width="1.8"/>
<polyline points="294.80,128.59 338.30,58.01 381.70,85.68 425.10,100.52" fill="none" stroke="#9f7ac9" stroke-width="1.8"/>
<polyline points="294.80,133.40 338.30,116.76 381.70,65.63 425.10,113.15" fill="none" stroke="#4f4158" stroke-width="1.8"/>
<line x1="294.80" y1="31.95" x2="294.80" y2="40.77" stroke="#c24e78" stroke-width="0.6" />
<line x1="293.50" y1="31.95" x2="296.10" y2="31.95" stroke="#c24e78" stroke-width="0.6" />
<line x1="293.50" y1="40.77" x2="296.10" y2="40.77" stroke="#c24e78" stroke-width="0.6" />
<circle cx="294.80" cy="36.36" r="2.60" fill="#ffffff" stroke="#c24e78" stroke-width="1.1" fill-opacity="0"/>
<circle cx="294.80" cy="36.36" r="2.00" fill="#c24e78" stroke="none" stroke-width="0" opacity="0.75"/>
<line x1="338.30" y1="84.08" x2="338.30" y2="91.30" stroke="#c24e78" stroke-width="0.6" />
<line x1="337.00" y1="84.08" x2="339.60" y2="84.08" stroke="#c24e78" stroke-width="0.6" />
<line x1="337.00" y1="91.30" x2="339.60" y2="91.30" stroke="#c24e78" stroke-width="0.6" />
<circle cx="338.30" cy="87.69" r="2.60" fill="#ffffff" stroke="#c24e78" stroke-width="1.1" fill-opacity="0"/>
<circle cx="338.30" cy="87.69" r="2.00" fill="#c24e78" stroke="none" stroke-width="0" opacity="0.75"/>
<line x1="381.70" y1="108.14" x2="381.70" y2="116.96" stroke="#c24e78" stroke-width="0.6" />
<line x1="380.40" y1="108.14" x2="383.00" y2="108.14" stroke="#c24e78" stroke-width="0.6" />
<line x1="380.40" y1="116.96" x2="383.00" y2="116.96" stroke="#c24e78" stroke-width="0.6" />
<circle cx="381.70" cy="112.55" r="2.60" fill="#ffffff" stroke="#c24e78" stroke-width="1.1" fill-opacity="0"/>
<circle cx="381.70" cy="112.55" r="2.00" fill="#c24e78" stroke="none" stroke-width="0" opacity="0.75"/>
<line x1="425.10" y1="119.87" x2="425.10" y2="124.87" stroke="#c24e78" stroke-width="0.6" />
<line x1="423.80" y1="119.87" x2="426.40" y2="119.87" stroke="#c24e78" stroke-width="0.6" />
<line x1="423.80" y1="124.87" x2="426.40" y2="124.87" stroke="#c24e78" stroke-width="0.6" />
<circle cx="425.10" cy="122.37" r="2.60" fill="#ffffff" stroke="#c24e78" stroke-width="1.1" fill-opacity="0"/>
<circle cx="425.10" cy="122.37" r="2.00" fill="#c24e78" stroke="none" stroke-width="0" opacity="0.75"/>
<line x1="294.80" y1="126.09" x2="294.80" y2="131.09" stroke="#9f7ac9" stroke-width="0.6" />
<line x1="293.50" y1="126.09" x2="296.10" y2="126.09" stroke="#9f7ac9" stroke-width="0.6" />
<line x1="293.50" y1="131.09" x2="296.10" y2="131.09" stroke="#9f7ac9" stroke-width="0.6" />
<circle cx="294.80" cy="128.59" r="2.60" fill="#ffffff" stroke="#9f7ac9" stroke-width="1.1" fill-opacity="0"/>
<circle cx="294.80" cy="128.59" r="2.00" fill="#9f7ac9" stroke="none" stroke-width="0" opacity="0.75"/>
<line x1="338.30" y1="55.51" x2="338.30" y2="60.51" stroke="#9f7ac9" stroke-width="0.6" />
<line x1="337.00" y1="55.51" x2="339.60" y2="55.51" stroke="#9f7ac9" stroke-width="0.6" />
<line x1="337.00" y1="60.51" x2="339.60" y2="60.51" stroke="#9f7ac9" stroke-width="0.6" />
<circle cx="338.30" cy="58.01" r="2.60" fill="#ffffff" stroke="#9f7ac9" stroke-width="1.1" fill-opacity="0"/>
<circle cx="338.30" cy="58.01" r="2.00" fill="#9f7ac9" stroke="none" stroke-width="0" opacity="0.75"/>
<line x1="381.70" y1="83.18" x2="381.70" y2="88.18" stroke="#9f7ac9" stroke-width="0.6" />
<line x1="380.40" y1="83.18" x2="383.00" y2="83.18" stroke="#9f7ac9" stroke-width="0.6" />
<line x1="380.40" y1="88.18" x2="383.00" y2="88.18" stroke="#9f7ac9" stroke-width="0.6" />
<circle cx="381.70" cy="85.68" r="2.60" fill="#ffffff" stroke="#9f7ac9" stroke-width="1.1" fill-opacity="0"/>
<circle cx="381.70" cy="85.68" r="2.00" fill="#9f7ac9" stroke="none" stroke-width="0" opacity="0.75"/>
<line x1="425.10" y1="98.02" x2="425.10" y2="103.02" stroke="#9f7ac9" stroke-width="0.6" />
<line x1="423.80" y1="98.02" x2="426.40" y2="98.02" stroke="#9f7ac9" stroke-width="0.6" />
<line x1="423.80" y1="103.02" x2="426.40" y2="103.02" stroke="#9f7ac9" stroke-width="0.6" />
<circle cx="425.10" cy="100.52" r="2.60" fill="#ffffff" stroke="#9f7ac9" stroke-width="1.1" fill-opacity="0"/>
<circle cx="425.10" cy="100.52" r="2.00" fill="#9f7ac9" stroke="none" stroke-width="0" opacity="0.75"/>
<line x1="294.80" y1="130.90" x2="294.80" y2="135.90" stroke="#4f4158" stroke-width="0.6" />
<line x1="293.50" y1="130.90" x2="296.10" y2="130.90" stroke="#4f4158" stroke-width="0.6" />
<line x1="293.50" y1="135.90" x2="296.10" y2="135.90" stroke="#4f4158" stroke-width="0.6" />
<circle cx="294.80" cy="133.40" r="2.60" fill="#ffffff" stroke="#4f4158" stroke-width="1.1" fill-opacity="0"/>
<circle cx="294.80" cy="133.40" r="2.00" fill="#4f4158" stroke="none" stroke-width="0" opacity="0.75"/>
<line x1="338.30" y1="114.26" x2="338.30" y2="119.26" stroke="#4f4158" stroke-width="0.6" />
<line x1="337.00" y1="114.26" x2="339.60" y2="114.26" stroke="#4f4158" stroke-width="0.6" />
<line x1="337.00" y1="119.26" x2="339.60" y2="119.26" stroke="#4f4158" stroke-width="0.6" />
<circle cx="338.30" cy="116.76" r="2.60" fill="#ffffff" stroke="#4f4158" stroke-width="1.1" fill-opacity="0"/>
<circle cx="338.30" cy="116.76" r="2.00" fill="#4f4158" stroke="none" stroke-width="0" opacity="0.75"/>
<line x1="381.70" y1="63.13" x2="381.70" y2="68.13" stroke="#4f4158" stroke-width="0.6" />
<line x1="380.40" y1="63.13" x2="383.00" y2="63.13" stroke="#4f4158" stroke-width="0.6" />
<line x1="380.40" y1="68.13" x2="383.00" y2="68.13" stroke="#4f4158" stroke-width="0.6" />
<circle cx="381.70" cy="65.63" r="2.60" fill="#ffffff" stroke="#4f4158" stroke-width="1.1" fill-opacity="0"/>
<circle cx="381.70" cy="65.63" r="2.00" fill="#4f4158" stroke="none" stroke-width="0" opacity="0.75"/>
<line x1="425.10" y1="110.65" x2="425.10" y2="115.65" stroke="#4f4158" stroke-width="0.6" />
<line x1="423.80" y1="110.65" x2="426.40" y2="110.65" stroke="#4f4158" stroke-width="0.6" />
<line x1="423.80" y1="115.65" x2="426.40" y2="115.65" stroke="#4f4158" stroke-width="0.6" />
<circle cx="425.10" cy="113.15" r="2.60" fill="#ffffff" stroke="#4f4158" stroke-width="1.1" fill-opacity="0"/>
<circle cx="425.10" cy="113.15" r="2.00" fill="#4f4158" stroke="none" stroke-width="0" opacity="0.75"/>
<line x1="272.80" y1="3.00" x2="446.50" y2="3.00" stroke="#1e1e1e" stroke-width="1.4" />
<line x1="272.80" y1="3.00" x2="272.80" y2="139.80" stroke="#1e1e1e" stroke-width="1.4" />
<line x1="272.80" y1="139.80" x2="446.50" y2="139.80" stroke="#1e1e1e" stroke-width="1.4" />
<line x1="446.50" y1="3.00" x2="446.50" y2="139.80" stroke="#1e1e1e" stroke-width="1.4" />
<line x1="269.80" y1="133.40" x2="272.80" y2="133.40" stroke="#1e1e1e" stroke-width="1.1" />
<text transform="translate(268.20,136.30) scale(1,1.09)" font-size="9.2" font-weight="bold" text-anchor="end" fill="#111" stroke="#111" stroke-width="0.25" >0</text>
<line x1="271.00" y1="123.38" x2="272.80" y2="123.38" stroke="#1e1e1e" stroke-width="1.0" />
<line x1="269.80" y1="113.35" x2="272.80" y2="113.35" stroke="#1e1e1e" stroke-width="1.1" />
<text transform="translate(268.20,116.25) scale(1,1.09)" font-size="9.2" font-weight="bold" text-anchor="end" fill="#111" stroke="#111" stroke-width="0.25" >10</text>
<line x1="271.00" y1="103.33" x2="272.80" y2="103.33" stroke="#1e1e1e" stroke-width="1.0" />
<line x1="269.80" y1="93.30" x2="272.80" y2="93.30" stroke="#1e1e1e" stroke-width="1.1" />
<text transform="translate(268.20,96.20) scale(1,1.09)" font-size="9.2" font-weight="bold" text-anchor="end" fill="#111" stroke="#111" stroke-width="0.25" >20</text>
<line x1="271.00" y1="83.28" x2="272.80" y2="83.28" stroke="#1e1e1e" stroke-width="1.0" />
<line x1="269.80" y1="73.25" x2="272.80" y2="73.25" stroke="#1e1e1e" stroke-width="1.1" />
<text transform="translate(268.20,76.15) scale(1,1.09)" font-size="9.2" font-weight="bold" text-anchor="end" fill="#111" stroke="#111" stroke-width="0.25" >30</text>
<line x1="271.00" y1="63.23" x2="272.80" y2="63.23" stroke="#1e1e1e" stroke-width="1.0" />
<line x1="269.80" y1="53.20" x2="272.80" y2="53.20" stroke="#1e1e1e" stroke-width="1.1" />
<text transform="translate(268.20,56.10) scale(1,1.09)" font-size="9.2" font-weight="bold" text-anchor="end" fill="#111" stroke="#111" stroke-width="0.25" >40</text>
<line x1="271.00" y1="43.18" x2="272.80" y2="43.18" stroke="#1e1e1e" stroke-width="1.0" />
<line x1="269.80" y1="33.15" x2="272.80" y2="33.15" stroke="#1e1e1e" stroke-width="1.1" />
<text transform="translate(268.20,36.05) scale(1,1.09)" font-size="9.2" font-weight="bold" text-anchor="end" fill="#111" stroke="#111" stroke-width="0.25" >50</text>
<line x1="271.00" y1="23.13" x2="272.80" y2="23.13" stroke="#1e1e1e" stroke-width="1.0" />
<line x1="269.80" y1="13.10" x2="272.80" y2="13.10" stroke="#1e1e1e" stroke-width="1.1" />
<text transform="translate(268.20,16.00) scale(1,1.09)" font-size="9.2" font-weight="bold" text-anchor="end" fill="#111" stroke="#111" stroke-width="0.25" >60</text>
<line x1="294.80" y1="139.80" x2="294.80" y2="142.80" stroke="#1e1e1e" stroke-width="1.1" />
<line x1="338.30" y1="139.80" x2="338.30" y2="142.80" stroke="#1e1e1e" stroke-width="1.1" />
<line x1="381.70" y1="139.80" x2="381.70" y2="142.80" stroke="#1e1e1e" stroke-width="1.1" />
<line x1="425.10" y1="139.80" x2="425.10" y2="142.80" stroke="#1e1e1e" stroke-width="1.1" />
<line x1="273.05" y1="139.80" x2="273.05" y2="141.60" stroke="#1e1e1e" stroke-width="1.0" />
<line x1="316.55" y1="139.80" x2="316.55" y2="141.60" stroke="#1e1e1e" stroke-width="1.0" />
<line x1="360.05" y1="139.80" x2="360.05" y2="141.60" stroke="#1e1e1e" stroke-width="1.0" />
<line x1="403.55" y1="139.80" x2="403.55" y2="141.60" stroke="#1e1e1e" stroke-width="1.0" />
<text transform="translate(296.00,151.60) scale(1,1.09)" font-size="9.4" font-weight="bold" text-anchor="middle" fill="#111" stroke="#111" stroke-width="0.25" >BDD</text>
<text transform="translate(335.40,151.60) scale(1,1.09)" font-size="9.4" font-weight="bold" text-anchor="middle" fill="#111" stroke="#111" stroke-width="0.25" >E<tspan font-size="7.0" dy="2.6">L</tspan><tspan dy="-2.6">BDD</tspan></text>
<text transform="translate(378.80,151.60) scale(1,1.09)" font-size="9.4" font-weight="bold" text-anchor="middle" fill="#111" stroke="#111" stroke-width="0.25" >E<tspan font-size="7.0" dy="2.6">M</tspan><tspan dy="-2.6">BDD</tspan></text>
<text transform="translate(422.20,151.60) scale(1,1.09)" font-size="9.4" font-weight="bold" text-anchor="middle" fill="#111" stroke="#111" stroke-width="0.25" >E<tspan font-size="7.0" dy="2.6">H</tspan><tspan dy="-2.6">BDD</tspan></text>
<text transform="translate(253.00,70.10) rotate(-90) scale(1,1.09)" font-size="9.5" font-weight="bold" text-anchor="middle" fill="#111" stroke="#111" stroke-width="0.3" >Faradaic efficiency (%)</text>
<line x1="281.80" y1="15.30" x2="297.90" y2="15.30" stroke="#c24e78" stroke-width="1.9" />
<circle cx="289.10" cy="15.30" r="2.80" fill="#fff" stroke="#c24e78" stroke-width="1.2" />
<circle cx="289.10" cy="15.30" r="2.10" fill="#c24e78" stroke="none" stroke-width="0" opacity="0.7"/>
<text transform="translate(301.80,18.00) scale(1,1.09)" font-size="8.8" font-weight="bold" text-anchor="start" fill="#111" stroke="#111" stroke-width="0.25" >HCOO<tspan font-size="5.6" dy="-3">−</tspan></text>
<line x1="336.80" y1="15.30" x2="352.70" y2="15.30" stroke="#9f7ac9" stroke-width="1.9" />
<circle cx="344.50" cy="15.30" r="2.80" fill="#fff" stroke="#9f7ac9" stroke-width="1.2" />
<circle cx="344.50" cy="15.30" r="2.10" fill="#9f7ac9" stroke="none" stroke-width="0" opacity="0.7"/>
<text transform="translate(358.40,18.00) scale(1,1.09)" font-size="8.8" font-weight="bold" text-anchor="start" fill="#111" stroke="#111" stroke-width="0.25" >CO</text>
<line x1="378.90" y1="15.30" x2="394.60" y2="15.30" stroke="#4f4158" stroke-width="1.9" />
<circle cx="387.40" cy="15.30" r="2.80" fill="#fff" stroke="#4f4158" stroke-width="1.2" />
<circle cx="387.40" cy="15.30" r="2.10" fill="#4f4158" stroke="none" stroke-width="0" opacity="0.7"/>
<text transform="translate(399.70,18.00) scale(1,1.09)" font-size="8.8" font-weight="bold" text-anchor="start" fill="#111" stroke="#111" stroke-width="0.25" >CH<tspan font-size="5.6" dy="1.8">3</tspan><tspan dy="-1.8">COO</tspan><tspan font-size="5.6" dy="-3">−</tspan></text>
<polygon points="36.3,273.0 36.9,272.7 37.5,272.4 38.1,273.6 38.7,273.8 39.3,272.1 39.9,271.9 40.5,270.6 41.1,270.7 41.7,273.2 42.3,271.1 42.9,271.2 43.5,270.8 44.1,269.4 44.7,270.2 45.3,270.0 45.9,270.5 46.5,270.7 47.1,270.1 47.7,269.7 48.3,270.0 48.9,268.8 49.5,269.9 50.1,269.2 50.7,268.9 51.3,267.8 51.9,269.3 52.5,269.1 53.1,269.1 53.7,268.2 54.3,269.0 54.9,268.8 55.5,268.3 56.1,268.7 56.7,268.2 57.3,268.3 57.9,268.3 58.5,267.3 59.1,267.8 59.7,267.7 60.3,267.5 60.9,266.7 61.5,267.4 62.1,267.3 62.7,268.1 63.3,267.3 63.9,266.8 64.5,267.3 65.1,268.2 65.7,267.7 66.3,267.3 66.9,268.1 67.5,268.0 68.1,268.2 68.7,269.4 69.3,268.4 69.9,269.1 70.5,268.9 71.1,268.0 71.7,269.5 72.3,269.8 72.9,268.3 73.5,268.6 74.1,268.8 74.7,268.2 75.3,268.6 75.9,269.4 76.5,268.7 77.1,268.1 77.7,269.0 78.3,269.2 78.9,268.3 79.5,269.4 80.1,268.7 80.7,269.2 81.3,268.0 81.9,269.2 82.5,268.0 83.1,269.9 83.7,269.0 84.3,268.8 84.9,267.7 85.5,268.5 86.1,267.9 86.7,268.1 87.3,269.7 87.9,269.0 88.5,270.2 89.1,268.9 89.7,269.3 90.3,269.0 90.9,267.6 91.5,268.4 92.1,267.9 92.7,268.2 93.3,269.1 93.9,268.3 94.5,267.9 95.1,268.5 95.7,268.7 96.3,268.1 96.9,267.6 97.5,268.3 98.1,268.0 98.7,268.1 99.3,268.3 99.9,268.2 100.5,267.0 101.1,268.0 101.7,267.5 102.3,268.7 102.9,269.0 103.5,267.4 104.1,267.6 104.7,267.9 105.3,267.7 105.9,267.8 106.5,266.9 107.1,267.6 107.7,267.6 108.3,268.0 108.9,266.6 109.5,267.2 110.1,267.0 110.7,266.8 111.3,265.4 111.9,265.5 112.5,267.1 113.1,266.9 113.7,266.4 114.3,267.8 114.9,266.2 115.5,267.3 116.1,266.8 116.7,266.1 117.3,266.4 117.9,266.8 118.5,267.4 119.1,266.9 119.7,268.0 120.3,267.4 120.9,266.9 121.5,266.9 122.1,267.2 122.7,266.4 123.3,266.7 123.9,268.6 124.5,268.2 125.1,267.1 125.7,266.8 126.3,267.5 126.9,267.7 127.5,267.4 128.1,268.3 128.7,267.2 129.3,267.7 129.9,268.0 130.5,267.4 131.1,266.9 131.7,267.9 132.3,268.9 132.9,267.4 133.5,268.1 134.1,268.5 134.7,268.1 135.3,268.0 135.9,269.4 136.5,268.4 137.1,269.4 137.7,268.0 138.3,268.6 138.9,268.7 139.5,266.9 140.1,266.8 140.7,268.7 141.3,268.8 141.9,267.7 142.5,267.9 143.1,267.9 143.7,267.4 144.3,267.3 144.9,267.1 145.5,268.6 146.1,267.2 146.7,267.9 147.3,267.5 147.9,267.4 148.5,266.6 149.1,266.4 149.7,267.3 150.3,266.8 150.9,266.9 151.5,266.0 152.1,267.9 152.7,267.6 153.3,267.9 153.9,266.5 154.5,266.9 155.1,267.2 155.7,267.2 156.3,266.1 156.9,266.6 157.5,267.5 158.1,266.8 158.7,267.6 159.3,267.0 159.9,267.0 160.5,267.4 161.1,267.3 161.7,266.3 162.3,265.4 162.9,267.3 163.5,264.0 164.1,267.0 164.7,266.3 165.3,266.6 165.9,266.1 166.5,266.2 167.1,267.4 167.7,265.9 168.3,266.8 168.9,267.8 169.5,266.1 170.1,264.9 170.7,267.7 171.3,267.2 171.9,267.2 172.5,267.1 173.1,267.4 173.7,267.3 174.3,266.6 174.9,266.6 175.5,266.1 176.1,266.5 176.7,267.7 177.3,266.5 177.9,267.2 178.5,266.6 179.1,267.1 179.7,267.3 180.3,266.7 180.9,266.4 181.5,266.7 182.1,267.3 182.7,266.6 183.3,267.9 183.9,266.4 184.5,267.1 185.1,267.5 185.7,267.7 186.3,267.6 186.9,268.0 187.5,267.1 188.1,266.8 188.7,267.2 189.3,267.2 189.9,268.3 190.5,267.7 191.1,267.8 191.7,265.1 192.3,267.6 192.9,267.4 193.5,269.0 194.1,269.3 194.7,267.6 195.3,268.3 195.9,269.4 196.5,268.5 197.1,268.1 197.7,268.1 198.3,268.0 198.9,268.2 199.5,267.9 200.1,268.9 200.7,269.1 201.3,269.7 201.9,268.2 202.5,268.3 203.1,268.3 203.7,268.8 204.3,267.4 204.9,267.9 205.5,267.7 206.1,267.2 206.7,268.5 207.3,267.9 207.9,268.4 208.5,268.3 209.1,267.4 209.7,266.7 210.3,267.7 210.9,268.7 211.5,268.1 212.1,267.8 212.7,267.9 213.3,268.0 213.9,268.1 214.5,268.3 215.1,268.1 215.7,268.0 216.3,268.3 216.9,268.1 217.5,267.9 218.1,267.9 218.7,267.1 219.3,267.2 219.9,267.5 220.5,267.3 221.1,267.9 221.7,267.5 222.3,267.3 222.9,267.3 223.5,268.5 224.1,268.1 224.7,268.5 225.3,268.5 225.9,266.1 226.5,268.7 227.1,267.5 227.7,268.0 228.3,267.4 228.9,267.5 229.5,267.8 230.1,267.2 230.7,267.5 231.3,268.4 231.9,268.1 232.5,267.8 233.1,267.9 233.7,267.2 234.3,267.4 234.9,267.2 235.5,267.7 236.1,268.1 236.7,267.7 237.3,268.2 237.9,267.2 238.5,268.2 239.1,267.7 239.7,266.7 240.3,268.7 240.9,267.3 241.5,268.2 242.1,268.2 242.7,268.1 243.3,266.0 243.9,267.9 244.5,267.3 245.1,267.6 245.7,267.7 246.3,268.0 246.9,267.4 247.5,267.5 248.1,268.2 248.7,268.1 249.3,267.0 249.9,268.7 250.5,267.0 251.1,267.9 251.7,268.0 252.3,267.2 252.9,268.1 253.5,266.3 254.1,268.3 254.7,267.6 255.3,268.9 255.9,267.8 256.5,268.0 257.1,267.7 257.7,267.9 258.3,268.6 258.9,268.2 259.5,268.5 260.1,268.1 260.7,267.8 261.3,267.8 261.9,268.5 262.5,266.3 263.1,267.6 263.7,268.8 264.3,268.0 264.9,267.2 265.5,268.5 266.1,267.6 266.7,268.6 267.3,268.6 267.9,268.6 268.5,269.3 269.1,266.6 269.7,267.9 270.3,267.8 270.9,268.7 271.5,268.3 272.1,268.2 272.7,266.4 273.3,268.0 273.9,268.7 274.5,268.9 275.1,267.6 275.7,267.8 276.3,267.3 276.9,267.8 277.5,269.2 278.1,268.2 278.7,267.6 279.3,268.5 279.9,269.2 280.5,267.4 281.1,269.4 281.7,269.0 282.3,269.1 282.9,267.7 283.5,266.7 284.1,268.4 284.7,267.4 285.3,268.4 285.9,268.1 286.5,268.6 287.1,268.9 287.7,267.9 288.3,268.8 288.9,268.8 289.5,267.8 290.1,266.9 290.7,268.3 291.3,268.7 291.9,268.8 292.5,268.4 293.1,268.6 293.7,269.1 294.3,268.2 294.9,268.2 295.5,268.5 296.1,268.5 296.7,268.7 297.3,268.4 297.9,268.5 298.5,268.5 299.1,268.3 299.7,268.2 300.3,269.3 300.9,268.6 301.5,269.6 302.1,268.4 302.7,270.3 303.3,269.2 303.9,269.4 304.5,269.2 305.1,269.2 305.7,269.3 306.3,268.9 306.9,267.3 307.5,269.0 308.1,268.6 308.7,268.6 309.3,269.5 309.9,268.9 310.5,268.2 311.1,269.7 311.7,268.3 312.3,268.3 312.9,268.8 313.5,269.2 314.1,268.2 314.7,269.3 315.3,268.6 315.9,269.6 316.5,268.5 317.1,268.5 317.7,268.4 318.3,269.5 318.9,268.9 319.5,268.5 320.1,269.5 320.7,269.4 321.3,268.7 321.9,268.2 322.5,269.2 323.1,267.9 323.7,268.8 324.3,268.7 324.9,268.8 325.5,268.4 326.1,270.2 326.7,269.8 327.3,270.1 327.9,268.0 328.5,268.6 329.1,269.1 329.7,268.6 330.3,269.6 330.9,268.3 331.5,269.4 332.1,268.4 332.7,268.8 333.3,269.0 333.9,268.8 334.5,268.4 335.1,268.5 335.7,268.6 336.3,268.9 336.9,269.3 337.5,268.5 338.1,268.5 338.7,269.5 339.3,268.9 339.9,269.9 340.5,269.9 341.1,268.4 341.7,268.1 342.3,268.3 342.9,269.7 343.5,269.8 344.1,269.2 344.7,269.1 345.3,269.8 345.9,268.4 346.5,270.1 347.1,269.7 347.7,268.7 348.3,268.6 348.9,269.5 349.5,270.4 350.1,270.5 350.7,270.1 351.3,270.2 351.9,269.1 352.5,268.8 353.1,269.2 353.7,268.7 354.3,269.7 354.9,270.8 355.5,268.6 356.1,269.1 356.7,270.0 357.3,270.3 357.9,269.9 358.5,268.4 359.1,270.5 359.7,269.4 360.3,268.9 360.9,269.1 361.5,269.7 362.1,269.3 362.7,269.1 363.3,269.5 363.9,269.0 364.5,269.5 365.1,270.0 365.7,270.0 366.3,269.6 366.9,269.3 367.5,269.5 368.1,270.6 368.7,270.5 369.3,269.7 369.9,269.6 370.5,269.2 371.1,269.8 371.7,269.6 372.3,269.6 372.9,268.6 373.5,269.8 374.1,269.5 374.7,269.1 375.3,270.0 375.9,269.1 376.5,270.3 377.1,269.6 377.7,269.8 378.3,269.1 378.9,269.8 379.5,268.6 380.1,269.9 380.7,268.9 381.3,270.4 381.9,267.8 382.5,269.3 383.1,269.8 383.7,269.0 384.3,267.2 384.9,268.7 385.5,268.7 386.1,269.3 386.7,269.5 387.3,269.9 387.9,270.0 388.5,269.7 389.1,269.6 389.7,270.1 390.3,269.7 390.9,269.2 391.5,268.8 392.1,270.1 392.7,270.5 393.3,269.7 393.9,269.1 394.5,270.0 395.1,268.1 395.7,267.7 396.3,269.4 396.9,268.8 397.5,268.8 398.1,270.4 398.7,268.3 399.3,269.2 399.9,269.7 400.5,269.3 401.1,269.2 401.7,268.0 402.3,269.0 402.9,269.8 403.5,268.7 404.1,269.4 404.7,269.8 405.3,269.1 405.9,269.1 406.5,268.9 407.1,270.6 407.7,269.4 408.3,268.9 408.9,269.1 409.5,269.5 410.1,269.8 410.7,270.7 411.3,269.3 411.9,269.6 412.5,269.2 413.1,269.9 413.7,269.2 414.3,269.4 414.9,268.7 415.5,271.0 416.1,269.4 416.7,270.6 417.3,269.6 417.9,270.4 418.5,269.9 419.1,268.5 419.7,270.6 420.3,269.4 420.9,270.0 421.5,269.3 422.1,270.1 422.7,269.9 423.3,270.4 423.9,269.8 424.5,269.6 425.1,268.9 425.7,270.4 426.3,270.2 426.9,269.7 427.5,270.0 428.1,269.6 428.7,269.8 429.3,269.4 429.9,269.6 430.5,269.6 431.1,268.3 431.7,269.5 431.7,276.9 431.1,277.4 430.5,276.8 429.9,278.0 429.3,277.1 428.7,276.5 428.1,277.8 427.5,277.9 426.9,277.6 426.3,277.2 425.7,278.0 425.1,277.3 424.5,277.5 423.9,278.8 423.3,278.5 422.7,278.5 422.1,277.3 421.5,277.5 420.9,277.0 420.3,278.2 419.7,278.0 419.1,278.8 418.5,277.3 417.9,279.1 417.3,277.3 416.7,277.4 416.1,276.8 415.5,276.7 414.9,277.8 414.3,277.8 413.7,277.8 413.1,276.7 412.5,277.8 411.9,277.8 411.3,277.2 410.7,278.3 410.1,277.4 409.5,277.1 408.9,276.7 408.3,277.7 407.7,278.2 407.1,277.0 406.5,277.5 405.9,278.1 405.3,277.1 404.7,278.1 404.1,277.9 403.5,276.9 402.9,277.6 402.3,277.4 401.7,276.9 401.1,277.3 400.5,277.5 399.9,276.6 399.3,277.8 398.7,276.1 398.1,276.6 397.5,276.4 396.9,277.1 396.3,277.9 395.7,277.5 395.1,276.6 394.5,276.4 393.9,276.9 393.3,277.9 392.7,278.1 392.1,276.8 391.5,278.0 390.9,279.1 390.3,276.2 389.7,276.7 389.1,278.2 388.5,276.6 387.9,276.9 387.3,276.8 386.7,278.2 386.1,277.8 385.5,277.2 384.9,276.8 384.3,277.1 383.7,277.8 383.1,277.0 382.5,276.8 381.9,277.1 381.3,276.8 380.7,277.3 380.1,276.7 379.5,277.3 378.9,277.3 378.3,278.1 377.7,277.3 377.1,277.5 376.5,277.4 375.9,277.3 375.3,277.1 374.7,277.9 374.1,276.0 373.5,277.4 372.9,276.9 372.3,277.5 371.7,277.7 371.1,277.5 370.5,275.9 369.9,277.5 369.3,277.1 368.7,276.3 368.1,277.7 367.5,277.2 366.9,278.0 366.3,276.8 365.7,277.2 365.1,277.2 364.5,276.9 363.9,276.4 363.3,277.7 362.7,277.2 362.1,277.6 361.5,277.6 360.9,277.4 360.3,277.0 359.7,277.4 359.1,277.1 358.5,276.3 357.9,276.5 357.3,279.0 356.7,277.6 356.1,276.5 355.5,276.2 354.9,276.6 354.3,277.5 353.7,277.2 353.1,276.6 352.5,277.1 351.9,277.1 351.3,277.0 350.7,279.1 350.1,278.2 349.5,277.6 348.9,277.0 348.3,277.0 347.7,277.2 347.1,276.8 346.5,276.6 345.9,276.8 345.3,277.9 344.7,277.4 344.1,277.3 343.5,277.1 342.9,276.3 342.3,278.0 341.7,276.4 341.1,276.8 340.5,277.5 339.9,278.0 339.3,276.2 338.7,277.2 338.1,277.0 337.5,276.4 336.9,276.4 336.3,276.1 335.7,277.6 335.1,277.4 334.5,276.7 333.9,277.0 333.3,276.4 332.7,276.2 332.1,277.3 331.5,276.3 330.9,277.1 330.3,276.5 329.7,276.6 329.1,276.8 328.5,276.8 327.9,277.0 327.3,276.6 326.7,276.7 326.1,276.9 325.5,276.2 324.9,276.6 324.3,277.1 323.7,276.5 323.1,277.2 322.5,276.9 321.9,276.7 321.3,277.4 320.7,276.6 320.1,278.4 319.5,276.7 318.9,276.9 318.3,277.0 317.7,277.0 317.1,277.1 316.5,277.0 315.9,276.5 315.3,277.3 314.7,276.9 314.1,275.9 313.5,276.7 312.9,275.8 312.3,276.6 311.7,276.6 311.1,277.4 310.5,276.9 309.9,277.3 309.3,277.0 308.7,276.7 308.1,276.6 307.5,276.6 306.9,277.1 306.3,277.7 305.7,277.4 305.1,277.1 304.5,278.3 303.9,276.9 303.3,276.0 302.7,276.4 302.1,276.7 301.5,276.7 300.9,276.2 300.3,276.9 299.7,276.2 299.1,276.8 298.5,276.7 297.9,277.4 297.3,276.8 296.7,275.8 296.1,276.0 295.5,277.6 294.9,277.2 294.3,276.8 293.7,277.1 293.1,275.9 292.5,276.7 291.9,276.6 291.3,276.7 290.7,276.1 290.1,275.9 289.5,275.6 288.9,276.3 288.3,276.9 287.7,277.3 287.1,276.8 286.5,275.7 285.9,276.4 285.3,276.2 284.7,276.1 284.1,275.9 283.5,276.2 282.9,275.2 282.3,276.2 281.7,276.2 281.1,276.2 280.5,275.5 279.9,276.4 279.3,277.0 278.7,276.4 278.1,276.1 277.5,275.5 276.9,276.7 276.3,277.5 275.7,275.0 275.1,276.6 274.5,276.1 273.9,275.8 273.3,276.7 272.7,276.6 272.1,275.8 271.5,275.7 270.9,275.8 270.3,276.7 269.7,276.4 269.1,277.3 268.5,276.8 267.9,275.1 267.3,275.1 266.7,277.7 266.1,276.7 265.5,276.0 264.9,276.3 264.3,277.3 263.7,276.2 263.1,276.0 262.5,276.1 261.9,275.6 261.3,276.2 260.7,275.6 260.1,276.0 259.5,275.7 258.9,275.6 258.3,275.8 257.7,276.4 257.1,276.2 256.5,276.0 255.9,276.7 255.3,276.1 254.7,275.4 254.1,275.7 253.5,276.1 252.9,275.5 252.3,276.2 251.7,274.7 251.1,276.6 250.5,275.7 249.9,274.9 249.3,276.0 248.7,275.8 248.1,276.3 247.5,275.6 246.9,275.5 246.3,275.4 245.7,274.8 245.1,276.1 244.5,275.1 243.9,276.3 243.3,275.3 242.7,275.6 242.1,276.1 241.5,275.2 240.9,275.9 240.3,275.2 239.7,274.7 239.1,276.4 238.5,275.6 237.9,275.2 237.3,275.7 236.7,275.4 236.1,276.1 235.5,275.7 234.9,275.8 234.3,276.0 233.7,275.7 233.1,275.2 232.5,276.3 231.9,275.4 231.3,275.5 230.7,275.9 230.1,275.7 229.5,275.7 228.9,275.0 228.3,276.0 227.7,275.5 227.1,275.5 226.5,276.1 225.9,274.3 225.3,276.6 224.7,275.1 224.1,275.6 223.5,275.9 222.9,274.6 222.3,275.7 221.7,275.5 221.1,275.3 220.5,275.8 219.9,274.6 219.3,276.1 218.7,277.0 218.1,276.3 217.5,275.3 216.9,275.8 216.3,276.2 215.7,275.6 215.1,274.2 214.5,277.2 213.9,275.6 213.3,276.2 212.7,275.7 212.1,276.6 211.5,276.2 210.9,275.5 210.3,276.1 209.7,276.2 209.1,275.5 208.5,276.7 207.9,275.0 207.3,275.8 206.7,275.9 206.1,276.0 205.5,276.7 204.9,276.1 204.3,276.3 203.7,277.2 203.1,275.7 202.5,277.1 201.9,276.1 201.3,277.0 200.7,275.8 200.1,275.7 199.5,275.3 198.9,275.8 198.3,276.1 197.7,275.7 197.1,275.5 196.5,277.0 195.9,274.6 195.3,275.4 194.7,276.9 194.1,275.1 193.5,275.9 192.9,275.9 192.3,275.7 191.7,275.2 191.1,275.3 190.5,275.0 189.9,275.2 189.3,275.5 188.7,274.6 188.1,275.4 187.5,275.8 186.9,274.5 186.3,274.7 185.7,274.6 185.1,274.5 184.5,274.3 183.9,275.3 183.3,276.0 182.7,275.5 182.1,275.4 181.5,274.9 180.9,276.5 180.3,274.4 179.7,274.8 179.1,274.4 178.5,275.9 177.9,274.0 177.3,274.5 176.7,275.6 176.1,275.1 175.5,274.3 174.9,274.4 174.3,273.6 173.7,275.3 173.1,274.2 172.5,273.9 171.9,274.9 171.3,274.6 170.7,274.4 170.1,275.0 169.5,273.8 168.9,275.1 168.3,274.8 167.7,275.1 167.1,275.0 166.5,275.4 165.9,275.7 165.3,274.2 164.7,274.5 164.1,275.3 163.5,274.4 162.9,274.6 162.3,275.0 161.7,275.3 161.1,274.8 160.5,275.5 159.9,274.3 159.3,274.1 158.7,274.5 158.1,274.4 157.5,273.8 156.9,276.6 156.3,274.6 155.7,275.1 155.1,273.9 154.5,274.8 153.9,274.7 153.3,274.4 152.7,274.6 152.1,274.0 151.5,274.5 150.9,275.1 150.3,274.1 149.7,275.1 149.1,275.1 148.5,274.2 147.9,275.0 147.3,275.4 146.7,275.9 146.1,274.3 145.5,274.4 144.9,274.5 144.3,274.3 143.7,275.0 143.1,275.1 142.5,276.1 141.9,275.5 141.3,276.3 140.7,276.2 140.1,275.4 139.5,275.7 138.9,275.5 138.3,276.8 137.7,276.6 137.1,275.7 136.5,275.6 135.9,275.4 135.3,276.2 134.7,276.2 134.1,276.1 133.5,275.6 132.9,275.5 132.3,276.4 131.7,274.5 131.1,274.3 130.5,275.8 129.9,274.8 129.3,274.5 128.7,275.9 128.1,275.8 127.5,275.2 126.9,275.4 126.3,276.8 125.7,274.8 125.1,275.5 124.5,275.9 123.9,275.1 123.3,274.7 122.7,275.3 122.1,275.1 121.5,274.7 120.9,274.2 120.3,274.7 119.7,275.3 119.1,274.5 118.5,275.4 117.9,274.7 117.3,274.1 116.7,274.6 116.1,274.6 115.5,275.3 114.9,274.3 114.3,274.8 113.7,274.7 113.1,275.1 112.5,275.5 111.9,273.4 111.3,276.5 110.7,275.7 110.1,274.8 109.5,275.1 108.9,275.6 108.3,274.6 107.7,274.2 107.1,274.9 106.5,275.7 105.9,274.5 105.3,277.8 104.7,276.0 104.1,275.4 103.5,276.0 102.9,276.0 102.3,274.1 101.7,275.5 101.1,275.7 100.5,275.7 99.9,275.7 99.3,275.8 98.7,275.5 98.1,276.1 97.5,275.7 96.9,277.1 96.3,275.0 95.7,275.4 95.1,276.8 94.5,276.5 93.9,276.5 93.3,276.7 92.7,275.8 92.1,277.0 91.5,276.7 90.9,276.8 90.3,276.2 89.7,276.7 89.1,275.8 88.5,276.8 87.9,277.2 87.3,275.5 86.7,277.4 86.1,276.6 85.5,276.7 84.9,276.9 84.3,275.7 83.7,276.5 83.1,277.1 82.5,278.4 81.9,276.3 81.3,276.5 80.7,277.8 80.1,275.7 79.5,276.4 78.9,277.1 78.3,277.1 77.7,276.5 77.1,276.0 76.5,277.1 75.9,276.6 75.3,276.2 74.7,275.9 74.1,276.6 73.5,276.5 72.9,277.4 72.3,276.7 71.7,275.1 71.1,276.8 70.5,276.9 69.9,275.7 69.3,276.6 68.7,275.7 68.1,275.9 67.5,275.6 66.9,275.7 66.3,276.5 65.7,276.0 65.1,277.4 64.5,276.4 63.9,274.4 63.3,276.2 62.7,274.5 62.1,274.4 61.5,274.5 60.9,275.1 60.3,274.9 59.7,275.3 59.1,275.5 58.5,274.9 57.9,276.1 57.3,275.9 56.7,276.0 56.1,275.4 55.5,276.0 54.9,275.6 54.3,276.3 53.7,276.1 53.1,276.5 52.5,276.3 51.9,276.6 51.3,277.4 50.7,276.9 50.1,277.6 49.5,277.3 48.9,278.2 48.3,277.2 47.7,278.0 47.1,277.7 46.5,278.8 45.9,278.6 45.3,279.7 44.7,278.0 44.1,279.2 43.5,278.8 42.9,278.7 42.3,279.9 41.7,279.7 41.1,279.9 40.5,280.5 39.9,280.8 39.3,280.9 38.7,281.1 38.1,282.2 37.5,281.4 36.9,282.4 36.3,283.1" fill="#333333"/>
<line x1="36.60" y1="276.00" x2="36.60" y2="291.00" stroke="#222" stroke-width="1.2" />
<line x1="103.20" y1="266.80" x2="103.20" y2="276.40" stroke="#111" stroke-width="0.9" />
<line x1="171.10" y1="265.83" x2="171.10" y2="275.43" stroke="#111" stroke-width="0.9" />
<line x1="238.40" y1="266.84" x2="238.40" y2="276.44" stroke="#111" stroke-width="0.9" />
<line x1="305.20" y1="268.00" x2="305.20" y2="277.60" stroke="#111" stroke-width="0.9" />
<line x1="371.40" y1="268.54" x2="371.40" y2="278.14" stroke="#111" stroke-width="0.9" />
<polygon points="43.50,212.90 48.50,221.40 38.50,221.40" fill="#b0478a"/>
<polygon points="66.00,214.70 71.00,223.70 61.00,223.70" fill="#b0478a"/>
<polygon points="81.10,216.80 86.10,225.60 76.10,225.60" fill="#b0478a"/>
<polygon points="111.70,212.90 116.70,221.70 106.70,221.70" fill="#b0478a"/>
<polygon points="149.50,215.90 154.50,224.60 144.50,224.60" fill="#b0478a"/>
<polygon points="194.80,217.70 199.80,226.70 189.80,226.70" fill="#b0478a"/>
<polygon points="243.70,216.00 248.70,224.80 238.70,224.80" fill="#b0478a"/>
<polygon points="255.00,215.70 260.00,224.40 250.00,224.40" fill="#b0478a"/>
<polygon points="277.60,218.70 282.60,227.40 272.60,227.40" fill="#b0478a"/>
<polygon points="323.00,220.90 328.00,229.50 318.00,229.50" fill="#b0478a"/>
<polygon points="337.80,223.00 342.80,231.80 332.80,231.80" fill="#b0478a"/>
<polygon points="375.90,222.70 380.90,231.60 370.90,231.60" fill="#b0478a"/>
<polygon points="413.20,233.00 418.20,241.50 408.20,241.50" fill="#b0478a"/>
<line x1="35.70" y1="172.50" x2="432.20" y2="172.50" stroke="#1e1e1e" stroke-width="1.4" />
<line x1="35.70" y1="172.50" x2="35.70" y2="322.00" stroke="#1e1e1e" stroke-width="1.4" />
<line x1="35.70" y1="322.00" x2="432.20" y2="322.00" stroke="#1e1e1e" stroke-width="1.4" />
<line x1="432.20" y1="172.50" x2="432.20" y2="322.00" stroke="#5b3a6b" stroke-width="1.4" />
<line x1="32.70" y1="172.60" x2="35.70" y2="172.60" stroke="#1e1e1e" stroke-width="1.1" />
<text transform="translate(31.50,176.20) scale(1,1.09)" font-size="10.8" font-weight="bold" text-anchor="end" fill="#111" stroke="#111" stroke-width="0.25" >0</text>
<line x1="33.90" y1="194.03" x2="35.70" y2="194.03" stroke="#1e1e1e" stroke-width="1.0" />
<line x1="32.70" y1="215.46" x2="35.70" y2="215.46" stroke="#1e1e1e" stroke-width="1.1" />
<text transform="translate(31.50,219.06) scale(1,1.09)" font-size="10.8" font-weight="bold" text-anchor="end" fill="#111" stroke="#111" stroke-width="0.25" >-10</text>
<line x1="33.90" y1="236.89" x2="35.70" y2="236.89" stroke="#1e1e1e" stroke-width="1.0" />
<line x1="32.70" y1="258.31" x2="35.70" y2="258.31" stroke="#1e1e1e" stroke-width="1.1" />
<text transform="translate(31.50,261.91) scale(1,1.09)" font-size="10.8" font-weight="bold" text-anchor="end" fill="#111" stroke="#111" stroke-width="0.25" >-20</text>
<line x1="33.90" y1="279.74" x2="35.70" y2="279.74" stroke="#1e1e1e" stroke-width="1.0" />
<line x1="32.70" y1="301.17" x2="35.70" y2="301.17" stroke="#1e1e1e" stroke-width="1.1" />
<text transform="translate(31.50,304.77) scale(1,1.09)" font-size="10.8" font-weight="bold" text-anchor="end" fill="#111" stroke="#111" stroke-width="0.25" >-30</text>
<line x1="33.90" y1="322.60" x2="35.70" y2="322.60" stroke="#1e1e1e" stroke-width="1.0" />
<line x1="432.20" y1="322.00" x2="435.20" y2="322.00" stroke="#5b3a6b" stroke-width="1.1" />
<text transform="translate(436.80,325.60) scale(1,1.09)" font-size="10.8" font-weight="bold" text-anchor="start" fill="#5b3a6b" stroke="#5b3a6b" stroke-width="0.25" >0</text>
<line x1="432.20" y1="305.33" x2="434.00" y2="305.33" stroke="#5b3a6b" stroke-width="1.0" />
<line x1="432.20" y1="288.67" x2="435.20" y2="288.67" stroke="#5b3a6b" stroke-width="1.1" />
<text transform="translate(436.80,292.27) scale(1,1.09)" font-size="10.8" font-weight="bold" text-anchor="start" fill="#5b3a6b" stroke="#5b3a6b" stroke-width="0.25" >20</text>
<line x1="432.20" y1="272.00" x2="434.00" y2="272.00" stroke="#5b3a6b" stroke-width="1.0" />
<line x1="432.20" y1="255.33" x2="435.20" y2="255.33" stroke="#5b3a6b" stroke-width="1.1" />
<text transform="translate(436.80,258.93) scale(1,1.09)" font-size="10.8" font-weight="bold" text-anchor="start" fill="#5b3a6b" stroke="#5b3a6b" stroke-width="0.25" >40</text>
<line x1="432.20" y1="238.66" x2="434.00" y2="238.66" stroke="#5b3a6b" stroke-width="1.0" />
<line x1="432.20" y1="222.00" x2="435.20" y2="222.00" stroke="#5b3a6b" stroke-width="1.1" />
<text transform="translate(436.80,225.60) scale(1,1.09)" font-size="10.8" font-weight="bold" text-anchor="start" fill="#5b3a6b" stroke="#5b3a6b" stroke-width="0.25" >60</text>
<line x1="432.20" y1="205.33" x2="434.00" y2="205.33" stroke="#5b3a6b" stroke-width="1.0" />
<line x1="432.20" y1="188.66" x2="435.20" y2="188.66" stroke="#5b3a6b" stroke-width="1.1" />
<text transform="translate(436.80,192.26) scale(1,1.09)" font-size="10.8" font-weight="bold" text-anchor="start" fill="#5b3a6b" stroke="#5b3a6b" stroke-width="0.25" >80</text>
<line x1="432.20" y1="172.00" x2="434.00" y2="172.00" stroke="#5b3a6b" stroke-width="1.0" />
<line x1="35.70" y1="322.00" x2="35.70" y2="325.50" stroke="#1e1e1e" stroke-width="1.1" />
<text transform="translate(35.70,337.40) scale(1,1.09)" font-size="10.8" font-weight="bold" text-anchor="middle" fill="#111" stroke="#111" stroke-width="0.25" >0</text>
<line x1="73.55" y1="322.00" x2="73.55" y2="323.80" stroke="#1e1e1e" stroke-width="1.0" />
<line x1="111.40" y1="322.00" x2="111.40" y2="325.50" stroke="#1e1e1e" stroke-width="1.1" />
<text transform="translate(111.40,337.40) scale(1,1.09)" font-size="10.8" font-weight="bold" text-anchor="middle" fill="#111" stroke="#111" stroke-width="0.25" >20</text>
<line x1="149.25" y1="322.00" x2="149.25" y2="323.80" stroke="#1e1e1e" stroke-width="1.0" />
<line x1="187.10" y1="322.00" x2="187.10" y2="325.50" stroke="#1e1e1e" stroke-width="1.1" />
<text transform="translate(187.10,337.40) scale(1,1.09)" font-size="10.8" font-weight="bold" text-anchor="middle" fill="#111" stroke="#111" stroke-width="0.25" >40</text>
<line x1="224.95" y1="322.00" x2="224.95" y2="323.80" stroke="#1e1e1e" stroke-width="1.0" />
<line x1="262.80" y1="322.00" x2="262.80" y2="325.50" stroke="#1e1e1e" stroke-width="1.1" />
<text transform="translate(262.80,337.40) scale(1,1.09)" font-size="10.8" font-weight="bold" text-anchor="middle" fill="#111" stroke="#111" stroke-width="0.25" >60</text>
<line x1="300.65" y1="322.00" x2="300.65" y2="323.80" stroke="#1e1e1e" stroke-width="1.0" />
<line x1="338.50" y1="322.00" x2="338.50" y2="325.50" stroke="#1e1e1e" stroke-width="1.1" />
<text transform="translate(338.50,337.40) scale(1,1.09)" font-size="10.8" font-weight="bold" text-anchor="middle" fill="#111" stroke="#111" stroke-width="0.25" >80</text>
<line x1="376.35" y1="322.00" x2="376.35" y2="323.80" stroke="#1e1e1e" stroke-width="1.0" />
<line x1="414.20" y1="322.00" x2="414.20" y2="325.50" stroke="#1e1e1e" stroke-width="1.1" />
<text transform="translate(414.20,337.40) scale(1,1.09)" font-size="10.8" font-weight="bold" text-anchor="middle" fill="#111" stroke="#111" stroke-width="0.25" >100</text>
<text transform="translate(227.60,347.30) scale(1,1.09)" font-size="11.2" font-weight="bold" text-anchor="middle" fill="#111" stroke="#111" stroke-width="0.25" >Time (h)</text>
<text transform="translate(42.60,192.20)" font-size="15.4" font-weight="bold" text-anchor="start" fill="#111" stroke="#111" stroke-width="0.25" >E<tspan font-size="10" dy="3.2">M</tspan><tspan dy="-3.2">BDD-NH</tspan><tspan font-size="10" dy="3.2">2</tspan></text>
<text transform="translate(11.60,246.00) rotate(-90)" font-size="11.2" font-weight="bold" text-anchor="middle" fill="#111" stroke="#111" stroke-width="0.3" >j<tspan font-size="8" dy="3">total</tspan><tspan dy="-3"> (mA·cm</tspan><tspan font-size="7.5" dy="-4">-2</tspan><tspan font-size="11.2" dy="4">)</tspan></text>
<text transform="translate(453.20,250.00) rotate(90)" font-size="11.4" font-weight="bold" text-anchor="middle" fill="#111" stroke="#111" stroke-width="0.3" >Faradaic efficiency (%)</text>
<text transform="translate(366.40,205.20)" font-size="12.6" font-weight="bold" text-anchor="start" fill="#7a1a86" stroke="#7a1a86" stroke-width="0.25" >CH<tspan font-size="8.5" dy="3">3</tspan><tspan dy="-3">COO</tspan><tspan font-size="8.5" dy="-5">−</tspan></text>
<polyline points="376.4,221 376.4,213.8 394,213.8" fill="none" stroke="#7a1a86" stroke-width="1.9"/>
<polygon points="399.6,213.8 392.5,210.6 392.5,217" fill="#7a1a86"/>
<line x1="502.10" y1="173.50" x2="673.00" y2="173.50" stroke="#1e1e1e" stroke-width="1.4" />
<line x1="502.10" y1="173.50" x2="502.10" y2="325.00" stroke="#1e1e1e" stroke-width="1.4" />
<line x1="502.10" y1="325.00" x2="673.00" y2="325.00" stroke="#1e1e1e" stroke-width="1.4" />
<line x1="673.00" y1="173.50" x2="673.00" y2="325.00" stroke="#1e1e1e" stroke-width="1.4" />
<line x1="499.10" y1="314.30" x2="502.10" y2="314.30" stroke="#1e1e1e" stroke-width="1.1" />
<text transform="translate(497.60,317.50) scale(1,1.09)" font-size="9.4" font-weight="bold" text-anchor="end" fill="#111" stroke="#111" stroke-width="0.25" >0</text>
<line x1="500.30" y1="302.15" x2="502.10" y2="302.15" stroke="#1e1e1e" stroke-width="1.0" />
<line x1="499.10" y1="290.00" x2="502.10" y2="290.00" stroke="#1e1e1e" stroke-width="1.1" />
<text transform="translate(497.60,293.20) scale(1,1.09)" font-size="9.4" font-weight="bold" text-anchor="end" fill="#111" stroke="#111" stroke-width="0.25" >5</text>
<line x1="500.30" y1="277.85" x2="502.10" y2="277.85" stroke="#1e1e1e" stroke-width="1.0" />
<line x1="499.10" y1="265.70" x2="502.10" y2="265.70" stroke="#1e1e1e" stroke-width="1.1" />
<text transform="translate(497.60,268.90) scale(1,1.09)" font-size="9.4" font-weight="bold" text-anchor="end" fill="#111" stroke="#111" stroke-width="0.25" >10</text>
<line x1="500.30" y1="253.55" x2="502.10" y2="253.55" stroke="#1e1e1e" stroke-width="1.0" />
<line x1="499.10" y1="241.40" x2="502.10" y2="241.40" stroke="#1e1e1e" stroke-width="1.1" />
<text transform="translate(497.60,244.60) scale(1,1.09)" font-size="9.4" font-weight="bold" text-anchor="end" fill="#111" stroke="#111" stroke-width="0.25" >15</text>
<line x1="500.30" y1="229.25" x2="502.10" y2="229.25" stroke="#1e1e1e" stroke-width="1.0" />
<line x1="499.10" y1="217.10" x2="502.10" y2="217.10" stroke="#1e1e1e" stroke-width="1.1" />
<text transform="translate(497.60,220.30) scale(1,1.09)" font-size="9.4" font-weight="bold" text-anchor="end" fill="#111" stroke="#111" stroke-width="0.25" >20</text>
<line x1="500.30" y1="204.95" x2="502.10" y2="204.95" stroke="#1e1e1e" stroke-width="1.0" />
<line x1="499.10" y1="192.80" x2="502.10" y2="192.80" stroke="#1e1e1e" stroke-width="1.1" />
<text transform="translate(497.60,196.00) scale(1,1.09)" font-size="9.4" font-weight="bold" text-anchor="end" fill="#111" stroke="#111" stroke-width="0.25" >25</text>
<line x1="500.30" y1="180.65" x2="502.10" y2="180.65" stroke="#1e1e1e" stroke-width="1.0" />
<line x1="534.30" y1="325.00" x2="534.30" y2="328.00" stroke="#1e1e1e" stroke-width="1.1" />
<text transform="translate(534.30,337.00) scale(1,1.09)" font-size="9.6" font-weight="bold" text-anchor="middle" fill="#111" stroke="#111" stroke-width="0.25" >40</text>
<line x1="557.40" y1="325.00" x2="557.40" y2="328.00" stroke="#1e1e1e" stroke-width="1.1" />
<text transform="translate(557.40,337.00) scale(1,1.09)" font-size="9.6" font-weight="bold" text-anchor="middle" fill="#111" stroke="#111" stroke-width="0.25" >50</text>
<line x1="580.50" y1="325.00" x2="580.50" y2="328.00" stroke="#1e1e1e" stroke-width="1.1" />
<text transform="translate(580.50,337.00) scale(1,1.09)" font-size="9.6" font-weight="bold" text-anchor="middle" fill="#111" stroke="#111" stroke-width="0.25" >60</text>
<line x1="603.60" y1="325.00" x2="603.60" y2="328.00" stroke="#1e1e1e" stroke-width="1.1" />
<text transform="translate(603.60,337.00) scale(1,1.09)" font-size="9.6" font-weight="bold" text-anchor="middle" fill="#111" stroke="#111" stroke-width="0.25" >70</text>
<line x1="626.70" y1="325.00" x2="626.70" y2="328.00" stroke="#1e1e1e" stroke-width="1.1" />
<text transform="translate(626.70,337.00) scale(1,1.09)" font-size="9.6" font-weight="bold" text-anchor="middle" fill="#111" stroke="#111" stroke-width="0.25" >80</text>
<line x1="649.80" y1="325.00" x2="649.80" y2="328.00" stroke="#1e1e1e" stroke-width="1.1" />
<text transform="translate(649.80,337.00) scale(1,1.09)" font-size="9.6" font-weight="bold" text-anchor="middle" fill="#111" stroke="#111" stroke-width="0.25" >90</text>
<line x1="672.90" y1="325.00" x2="672.90" y2="328.00" stroke="#1e1e1e" stroke-width="1.1" />
<text transform="translate(672.90,337.00) scale(1,1.09)" font-size="9.6" font-weight="bold" text-anchor="middle" fill="#111" stroke="#111" stroke-width="0.25" >100</text>
<line x1="511.20" y1="325.00" x2="511.20" y2="328.00" stroke="#1e1e1e" stroke-width="1.1" />
<line x1="502.10" y1="325.00" x2="502.10" y2="328.00" stroke="#1e1e1e" stroke-width="1.1" />
<text transform="translate(502.30,337.00) scale(1,1.09)" font-size="9.8" font-weight="bold" text-anchor="middle" fill="#111" stroke="#111" stroke-width="0.25" >0</text>
<text transform="translate(511.00,337.00) scale(1,1.09)" font-size="9.8" font-weight="bold" text-anchor="middle" fill="#111" stroke="#111" stroke-width="0.25" >30</text>
<rect x="506.20" y="171.00" width="2.60" height="5.00" fill="#fff" stroke="none" stroke-width="0" />
<line x1="504.30" y1="175.80" x2="507.60" y2="170.60" stroke="#1e1e1e" stroke-width="1.3" />
<line x1="507.60" y1="175.80" x2="510.90" y2="170.60" stroke="#1e1e1e" stroke-width="1.3" />
<rect x="505.60" y="322.50" width="2.60" height="4.50" fill="#fff" stroke="none" stroke-width="0" />
<line x1="503.80" y1="326.60" x2="507.00" y2="322.00" stroke="#1e1e1e" stroke-width="1.2" />
<line x1="507.20" y1="326.60" x2="510.40" y2="322.00" stroke="#1e1e1e" stroke-width="1.2" />
<text transform="translate(590.50,347.60) scale(1,1.09)" font-size="10.6" font-weight="bold" text-anchor="middle" fill="#111" stroke="#111" stroke-width="0.25" >Acetate/acetic acid FE (%)</text>
<text transform="translate(482.80,249.00) rotate(-90) scale(1,1.09)" font-size="10.6" font-weight="bold" text-anchor="middle" fill="#111" stroke="#111" stroke-width="0.3" >Current density (mA cm<tspan font-size="6.5" dy="-3.5">-2</tspan><tspan font-size="10.6" dy="3.5">)</tspan></text>
<text transform="translate(587.00,187.60) scale(1,1.09)" font-size="10" font-weight="bold" text-anchor="middle" fill="#111" stroke="#111" stroke-width="0.25" >This Work</text>
<circle cx="586.60" cy="202.30" r="11.20" fill="#c8324c" stroke="none" stroke-width="0" />
<text x="588.3" y="206.8" font-size="10.5" font-weight="bold" text-anchor="middle" fill="#fff" stroke="#555" stroke-width="1.1" paint-order="stroke">100 h</text>
<text transform="translate(587.60,222.30) scale(1,1.09)" font-size="8.8" font-weight="bold" text-anchor="middle" fill="#111" stroke="#111" stroke-width="0.25" >E<tspan font-size="6" dy="2.2">M</tspan><tspan dy="-2.2">BDD-NH</tspan><tspan font-size="6" dy="2.2">2</tspan></text>
<text transform="translate(644.00,185.60)" font-size="5.6" font-weight="bold" text-anchor="middle" fill="#111" >lg(stability)</text>
<text transform="translate(643.50,192.00)" font-size="5.6" font-weight="bold" text-anchor="middle" fill="#111" >(arb. units)</text>
<circle cx="617.90" cy="200.70" r="0.40" fill="#222" stroke="none" stroke-width="0" />
<circle cx="623.40" cy="200.70" r="1.00" fill="#222" stroke="none" stroke-width="0" />
<circle cx="629.70" cy="200.70" r="2.00" fill="none" stroke="#222" stroke-width="0.8" />
<circle cx="637.80" cy="200.70" r="3.00" fill="none" stroke="#222" stroke-width="0.8" />
<circle cx="648.10" cy="200.70" r="4.40" fill="none" stroke="#222" stroke-width="0.8" />
<circle cx="660.70" cy="200.70" r="5.60" fill="none" stroke="#222" stroke-width="0.8" />
<line x1="617.50" y1="208.20" x2="665.00" y2="208.20" stroke="#222" stroke-width="1.0" />
<line x1="623.40" y1="208.20" x2="623.40" y2="210.80" stroke="#222" stroke-width="0.9" />
<line x1="629.70" y1="208.20" x2="629.70" y2="210.80" stroke="#222" stroke-width="0.9" />
<line x1="637.80" y1="208.20" x2="637.80" y2="210.80" stroke="#222" stroke-width="0.9" />
<line x1="648.10" y1="208.20" x2="648.10" y2="210.80" stroke="#222" stroke-width="0.9" />
<line x1="660.70" y1="208.20" x2="660.70" y2="210.80" stroke="#222" stroke-width="0.9" />
<text transform="translate(622.50,217.60)" font-size="5.4" font-weight="bold" text-anchor="middle" fill="#111" >0.54</text>
<text transform="translate(661.30,217.60)" font-size="5.4" font-weight="bold" text-anchor="middle" fill="#111" >2</text>
<text transform="translate(622.80,245.30) scale(1,1.09)" font-size="9.0" font-weight="bold" text-anchor="start" fill="#111" stroke="#111" stroke-width="0.25" >PcCu-TFPN</text>
<circle cx="650.00" cy="258.90" r="4.80" fill="none" stroke="#2c7e77" stroke-width="1.6" />
<text transform="translate(648.40,273.60) scale(1,1.09)" font-size="8.8" font-weight="bold" text-anchor="start" fill="#111" stroke="#111" stroke-width="0.25" >80 h</text>
<text transform="translate(585.50,256.40) scale(1,1.09)" font-size="9.0" font-weight="bold" text-anchor="start" fill="#111" stroke="#111" stroke-width="0.25" >Cu(I)/BN-C</text>
<circle cx="626.80" cy="260.00" r="1.50" fill="none" stroke="#3a9ad6" stroke-width="0.9" />
<text transform="translate(621.50,270.00) scale(1,1.09)" font-size="8.8" font-weight="bold" text-anchor="start" fill="#111" stroke="#111" stroke-width="0.25" >5 h</text>
<text transform="translate(532.60,284.60) scale(1,1.09)" font-size="8.9" font-weight="bold" text-anchor="start" fill="#111" stroke="#111" stroke-width="0.25" >Cu-Cu<tspan font-size="6" dy="2">2</tspan><tspan dy="-2">O/Cu</tspan></text>
<text transform="translate(504.10,293.70) scale(1,1.09)" font-size="8.9" font-weight="bold" text-anchor="start" fill="#111" stroke="#111" stroke-width="0.25" >N-ND/Cu</text>
<circle cx="534.10" cy="299.10" r="1.90" fill="none" stroke="#2f74b5" stroke-width="1.0" />
<text transform="translate(532.00,310.20) scale(1,1.09)" font-size="8.8" font-weight="bold" text-anchor="start" fill="#111" stroke="#111" stroke-width="0.25" >7 h</text>
<circle cx="522.10" cy="311.10" r="3.20" fill="none" stroke="#d45a6e" stroke-width="1.4" />
<text transform="translate(522.90,322.60) scale(1,1.09)" font-size="8.8" font-weight="bold" text-anchor="start" fill="#111" stroke="#111" stroke-width="0.25" >24 h</text>
<text transform="translate(548.00,305.70) scale(1,1.09)" font-size="8.8" font-weight="bold" text-anchor="start" fill="#111" stroke="#111" stroke-width="0.25" >Mn-corrole</text>
<text transform="translate(584.90,296.60) scale(1,1.09)" font-size="8.8" font-weight="bold" text-anchor="start" fill="#111" stroke="#111" stroke-width="0.25" >SVW<tspan font-size="6" dy="2">11</tspan><tspan dy="-2">&amp;In</tspan></text>
<text transform="translate(607.30,307.80) scale(1,1.09)" font-size="8.8" font-weight="bold" text-anchor="start" fill="#111" stroke="#111" stroke-width="0.25" >NDD/Si RA</text>
<text transform="translate(641.20,294.50) scale(1,1.09)" font-size="8.8" font-weight="bold" text-anchor="start" fill="#111" stroke="#111" stroke-width="0.25" >SiW<tspan font-size="6" dy="2">9</tspan><tspan dy="-2">V</tspan><tspan font-size="6" dy="2">3</tspan></text>
<circle cx="587.60" cy="312.00" r="1.90" fill="none" stroke="#f0a020" stroke-width="1.0" />
<circle cx="597.60" cy="314.20" r="3.20" fill="none" stroke="#6a5acd" stroke-width="1.3" />
<circle cx="621.10" cy="312.00" r="1.30" fill="#4a9a3a" stroke="none" stroke-width="0" />
<circle cx="664.90" cy="309.10" r="3.20" fill="none" stroke="#e0503a" stroke-width="1.3" />
<text transform="translate(581.90,323.00) scale(1,1.09)" font-size="8.8" font-weight="bold" text-anchor="start" fill="#111" stroke="#111" stroke-width="0.25" >5 h</text>
<text transform="translate(598.20,323.00) scale(1,1.09)" font-size="8.8" font-weight="bold" text-anchor="start" fill="#111" stroke="#111" stroke-width="0.25" >12 h</text>
<text transform="translate(622.60,319.80) scale(1,1.09)" font-size="8.8" font-weight="bold" text-anchor="start" fill="#111" stroke="#111" stroke-width="0.25" >3.5 h</text>
<text transform="translate(655.40,323.00) scale(1,1.09)" font-size="8.8" font-weight="bold" text-anchor="start" fill="#111" stroke="#111" stroke-width="0.25" >12 h</text>
<line x1="520.20" y1="295.50" x2="520.65" y2="301.41" stroke="#111" stroke-width="1.5" />
<polygon points="521.00,306.00 517.96,301.62 523.34,301.21" fill="#111"/>
<line x1="552.00" y1="286.20" x2="542.83" y2="293.85" stroke="#111" stroke-width="1.5" />
<polygon points="539.30,296.80 541.10,291.78 544.56,295.93" fill="#111"/>
<line x1="601.40" y1="297.60" x2="600.30" y2="304.75" stroke="#111" stroke-width="1.5" />
<polygon points="599.60,309.30 597.63,304.34 602.97,305.16" fill="#111"/>
<line x1="657.50" y1="296.10" x2="660.90" y2="300.78" stroke="#111" stroke-width="1.5" />
<polygon points="663.60,304.50 658.71,302.36 663.08,299.19" fill="#111"/>
</svg></body></html>
